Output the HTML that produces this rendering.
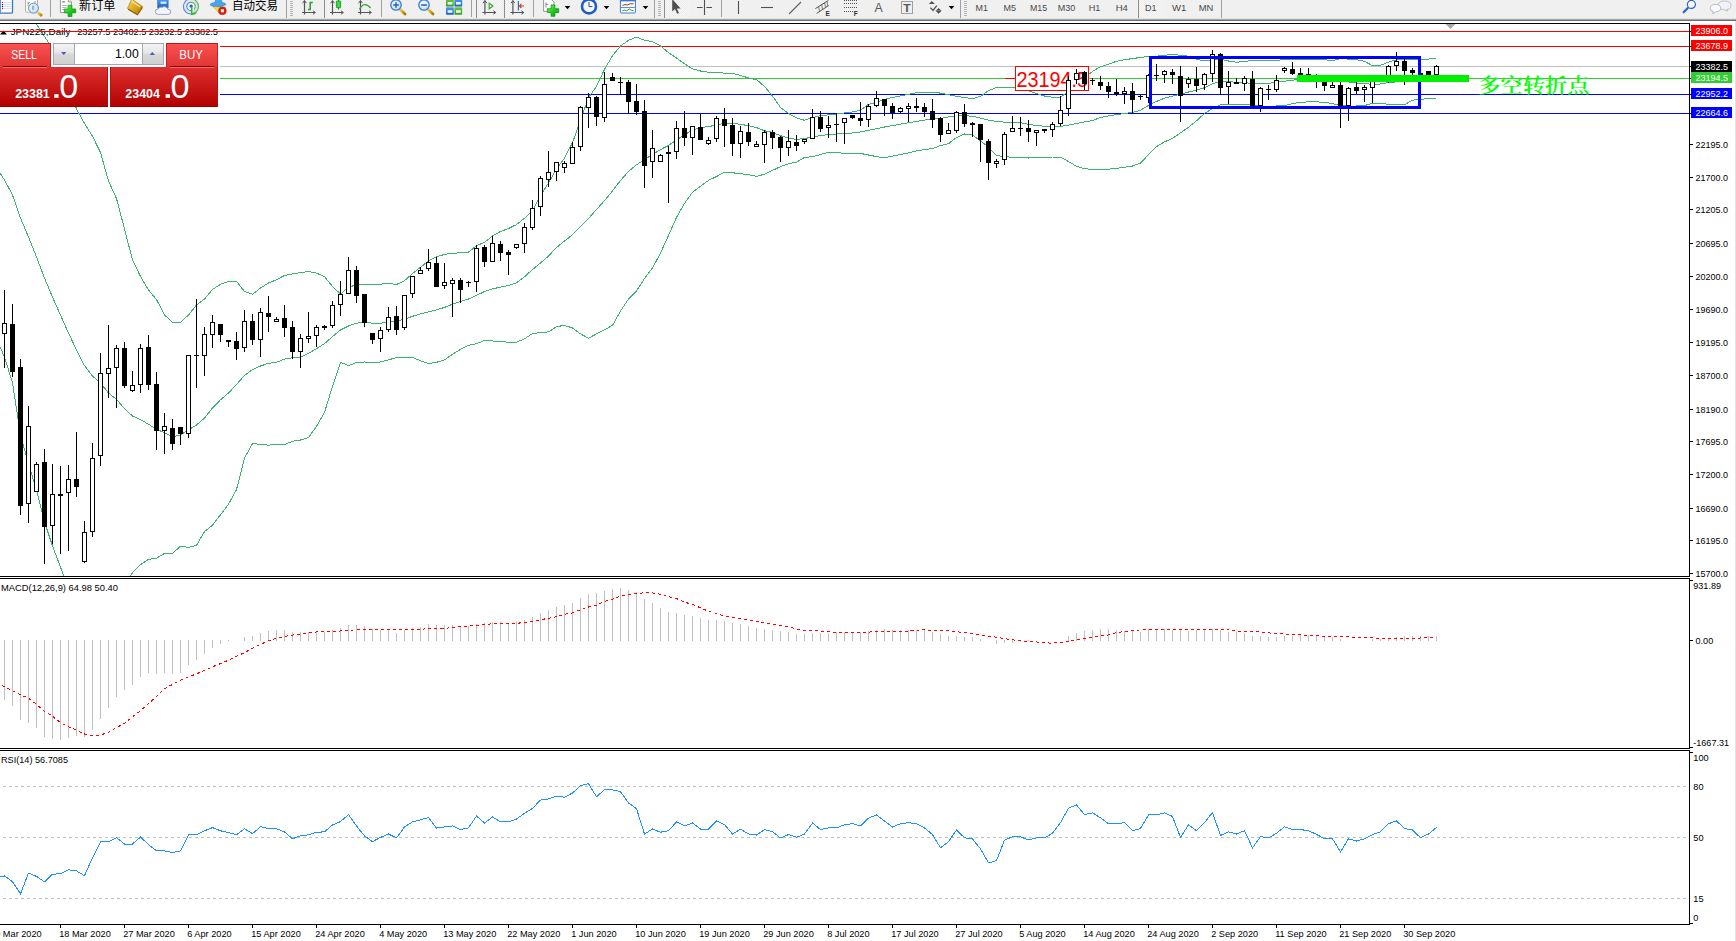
<!DOCTYPE html>
<html lang="zh"><head><meta charset="utf-8"><title>JPN225,Daily</title>
<style>html,body{margin:0;padding:0;background:#fff;overflow:hidden}body{width:1736px;height:941px}</style>
</head><body>
<svg width="1736" height="941" viewBox="0 0 1736 941" font-family="'Liberation Sans', sans-serif" style="display:block">
<defs>
<linearGradient id="gTab" x1="0" y1="0" x2="0" y2="1"><stop offset="0" stop-color="#fa5252"/><stop offset="1" stop-color="#e23434"/></linearGradient>
<linearGradient id="gLow" x1="0" y1="0" x2="0" y2="1"><stop offset="0" stop-color="#de3030"/><stop offset="0.5" stop-color="#c81818"/><stop offset="1" stop-color="#b00000"/></linearGradient>
<linearGradient id="gBtn" x1="0" y1="0" x2="0" y2="1"><stop offset="0" stop-color="#f4f4f4"/><stop offset="0.45" stop-color="#e6e6e6"/><stop offset="0.5" stop-color="#d8d8d8"/><stop offset="1" stop-color="#d0d0d0"/></linearGradient>
<clipPath id="cMain"><rect x="0" y="24" width="1689" height="552"/></clipPath>
<linearGradient id="gPlus" x1="0" y1="0" x2="1" y2="1"><stop offset="0" stop-color="#7dfa7d"/><stop offset="0.5" stop-color="#1fd01f"/><stop offset="1" stop-color="#0a9a0a"/></linearGradient><linearGradient id="gGold" x1="0" y1="0" x2="1" y2="1"><stop offset="0" stop-color="#f8dc70"/><stop offset="0.6" stop-color="#d8a010"/><stop offset="1" stop-color="#a87808"/></linearGradient><radialGradient id="gLens" cx="0.4" cy="0.35" r="0.7"><stop offset="0" stop-color="#f4fbff"/><stop offset="1" stop-color="#c4dcf0"/></radialGradient><linearGradient id="gBlue" x1="0" y1="0" x2="0" y2="1"><stop offset="0" stop-color="#4aa0f0"/><stop offset="1" stop-color="#1c5cc0"/></linearGradient><linearGradient id="gGreen" x1="0" y1="0" x2="0" y2="1"><stop offset="0" stop-color="#6cc840"/><stop offset="1" stop-color="#3c9818"/></linearGradient><pattern id="pChk" width="2" height="2" patternUnits="userSpaceOnUse"><rect width="2" height="2" fill="#f7f7f7"/><rect width="1" height="1" fill="#ececec"/><rect x="1" y="1" width="1" height="1" fill="#ececec"/></pattern><clipPath id="cTb"><rect x="0" y="0" width="1736" height="18"/></clipPath>
</defs>
<rect x="0" y="0" width="1736" height="941" fill="#fff"/>
<rect x="0" y="0" width="1736" height="18" fill="#f0f0f0"/>
<rect x="0" y="18" width="1736" height="1" fill="#e2e2e2"/>
<rect x="0" y="19" width="1736" height="1" fill="#a8a8a8"/>
<rect x="0" y="20" width="1736" height="1" fill="#6c6c6c"/>
<g clip-path="url(#cTb)"><rect x="-0.5" y="-1.5" width="13" height="14.7" rx="1.2" fill="#fff" stroke="#3b78c0" stroke-width="1.3"/><rect x="0" y="0" width="1" height="13" fill="#5a9ae0"/><rect x="3.4" y="2.1" width="8" height="0.8" fill="#c8d8f8"/><circle cx="2.5" cy="2.4" r="0.7" fill="#f01010"/><rect x="3.4" y="4.2" width="8" height="0.8" fill="#c8d8f8"/><circle cx="2.5" cy="4.5" r="0.7" fill="#202020"/><rect x="3.4" y="6.2" width="8" height="0.8" fill="#c8d8f8"/><circle cx="2.5" cy="6.5" r="0.7" fill="#202020"/><rect x="3.4" y="8.2" width="8" height="0.8" fill="#c8d8f8"/><circle cx="2.5" cy="8.5" r="0.7" fill="#f01010"/><rect x="25.5" y="-1" width="12" height="13.2" rx="0.8" fill="#fcfcf8" stroke="#b4aa94" stroke-width="0.9"/><path d="M28.2 1.5V6M28.2 3.2L30 2.2M35 1V3.2" stroke="#8c9098" stroke-width="0.8" fill="none"/><path d="M37.6 12.2L42 15.8" stroke="url(#gGold)" stroke-width="2.8" stroke-linecap="butt"/><circle cx="33.5" cy="8.2" r="5" fill="url(#gLens)" stroke="#5a8fd8" stroke-width="1"/><path d="M31.8 5.5h2.6l-0.3 4.6h-2z" fill="#a4b4c4"/><rect x="50" y="0" width="1" height="17" fill="#a0a0a0" shape-rendering="crispEdges"/><path d="M60.4 -1H68.4L71.4 2V12.2Q71.4 12.6 71 12.6H60.8Q60.4 12.6 60.4 12.2Z" fill="#fff" stroke="#8a8a8a" stroke-width="0.9"/><path d="M68.4 -1V2H71.4" fill="#e8e8e8" stroke="#8a8a8a" stroke-width="0.8"/><rect x="62" y="1.2" width="3" height="1.4" fill="#909090"/><rect x="62" y="5.2" width="5" height="0.7" fill="#9a9a9a"/><rect x="62" y="7.1" width="4.6" height="0.7" fill="#9a9a9a"/><rect x="62" y="9.1" width="2.5" height="0.7" fill="#9a9a9a"/><path d="M68.1 5.2h3.8v3.8000000000000003h3.8000000000000003v3.8h-3.8000000000000003v3.8000000000000003h-3.8v-3.8000000000000003h-3.8000000000000003v-3.8h3.8000000000000003z" fill="url(#gPlus)" stroke="#0a8a0a" stroke-width="0.7"/><text x="79" y="10.4" font-size="12" fill="#000" textLength="36.4" lengthAdjust="spacingAndGlyphs" font-family="'Liberation Sans','Noto Sans CJK SC',sans-serif">新订单</text><path d="M131.8 -1L142.6 6.6L137.5 14.6L127.4 8.4Z" fill="url(#gGold)" stroke="#a87808" stroke-width="0.6"/><path d="M128.2 9.2L137.4 14.8L142.4 7.4" stroke="#8a5c04" stroke-width="1.1" fill="none"/><path d="M131.5 1L139.8 6.8" stroke="#fbe9a0" stroke-width="1.2"/><rect x="157.6" y="-1" width="10.6" height="9.4" rx="0.8" fill="url(#gBlue)" stroke="#2a6cc8" stroke-width="0.6"/><rect x="160.6" y="1.6" width="5.8" height="2.2" fill="#d8ecff"/><path d="M158.4 14.4Q155.2 14.4 155.2 11.6Q155.2 9 158.2 9.2Q159.2 6.4 162.4 7.2Q164 5.8 166 7.2Q167.6 7.2 167.8 9.2Q171 9.2 170.8 12Q170.8 14.4 168 14.4Z" fill="#f2f6fc" stroke="#8c9cc0" stroke-width="0.9"/><circle cx="191" cy="6.4" r="8" fill="#dfe9f4"/><path d="M191 -1.6A8 8 0 0 1 191 14.4Z" fill="#d4ead8"/><circle cx="191" cy="6.4" r="4.2" fill="#f2f6fb"/><path d="M191 -1.2A7.6 7.6 0 0 0 191 14M191 2.2A4.2 4.2 0 0 0 191 10.6" stroke="#5a86d8" stroke-width="1.1" fill="none"/><path d="M191 -1.2A7.6 7.6 0 0 1 192.6 13.8M191 2.2A4.2 4.2 0 0 1 194 9.4" stroke="#62ac6c" stroke-width="1.1" fill="none"/><circle cx="191.2" cy="6.2" r="1.6" fill="#2c5ed0"/><path d="M191.7 7.4V14.3Q194.6 14.2 196.2 12.2" stroke="#28b828" stroke-width="1.5" fill="none"/><path d="M212.6 6.2L220.4 14.6L226 7.2Z" fill="#f8d848" stroke="#d0a010" stroke-width="0.5"/><path d="M216 -1H221L222.4 2.6Q226 3 226 4.6Q222 7.4 216.4 6.6Q210.4 6.4 210 4.4Q210.8 3 214.6 2.6Z" fill="#4aa4e8" stroke="#2a7cc8" stroke-width="0.5"/><circle cx="222.4" cy="10.8" r="3.9" fill="#d82010" stroke="#b01408" stroke-width="0.5"/><rect x="220.9" y="9.3" width="3" height="3" fill="#fff"/><text x="232" y="10.4" font-size="12" fill="#000" textLength="46" lengthAdjust="spacingAndGlyphs" font-family="'Liberation Sans','Noto Sans CJK SC',sans-serif">自动交易</text><rect x="286" y="0" width="1" height="18" fill="#a0a0a0" shape-rendering="crispEdges"/><rect x="290" y="1" width="3" height="1" fill="#b4b4b4" shape-rendering="crispEdges"/><rect x="290" y="3" width="3" height="1" fill="#b4b4b4" shape-rendering="crispEdges"/><rect x="290" y="5" width="3" height="1" fill="#b4b4b4" shape-rendering="crispEdges"/><rect x="290" y="7" width="3" height="1" fill="#b4b4b4" shape-rendering="crispEdges"/><rect x="290" y="9" width="3" height="1" fill="#b4b4b4" shape-rendering="crispEdges"/><rect x="290" y="11" width="3" height="1" fill="#b4b4b4" shape-rendering="crispEdges"/><rect x="290" y="13" width="3" height="1" fill="#b4b4b4" shape-rendering="crispEdges"/><rect x="290" y="15" width="3" height="1" fill="#b4b4b4" shape-rendering="crispEdges"/><path d="M304.5 0.5V14.5M302 12.5H315" stroke="#555" stroke-width="1.2" fill="none"/><path d="M302.6 3.2L304.5 0.6L306.4 3.2M313 10.8L315.4 12.5L313 14.2" stroke="#555" stroke-width="1" fill="none"/><path d="M308 9.6H310.2V2.4H312.8" stroke="#28a028" stroke-width="1.5" fill="none"/><rect x="325" y="0" width="24" height="18" fill="url(#pChk)" shape-rendering="crispEdges"/><rect x="324" y="0" width="1" height="18" fill="#8c8c8c" shape-rendering="crispEdges"/><path d="M332.5 0.5V14.5M330 12.5H343" stroke="#555" stroke-width="1.2" fill="none"/><path d="M330.6 3.2L332.5 0.6L334.4 3.2M341 10.8L343.4 12.5L341 14.2" stroke="#555" stroke-width="1" fill="none"/><path d="M338.5 -1V9.6" stroke="#1c8c1c" stroke-width="1"/><rect x="336.4" y="1" width="4.2" height="6.8" rx="0.6" fill="#30e040" stroke="#1c8c1c" stroke-width="0.8"/><path d="M360.5 0.5V14.5M358 12.5H371" stroke="#555" stroke-width="1.2" fill="none"/><path d="M358.6 3.2L360.5 0.6L362.4 3.2M369 10.8L371.4 12.5L369 14.2" stroke="#555" stroke-width="1" fill="none"/><path d="M359.4 9.4Q364.4 0.6 370.6 8.2" stroke="#38a038" stroke-width="1.3" fill="none"/><rect x="381" y="0" width="1" height="17" fill="#a0a0a0" shape-rendering="crispEdges"/><path d="M399.2 8.6L405 14" stroke="url(#gGold)" stroke-width="2.8" stroke-linecap="round"/><circle cx="396" cy="5" r="5.2" fill="url(#gLens)" stroke="#3d7bd0" stroke-width="1.3"/><path d="M393.2 5H398.8" stroke="#2a66c4" stroke-width="1.6"/><path d="M396 2.2V7.8" stroke="#2a66c4" stroke-width="1.6"/><path d="M427.2 8.6L433 14" stroke="url(#gGold)" stroke-width="2.8" stroke-linecap="round"/><circle cx="424" cy="5" r="5.2" fill="url(#gLens)" stroke="#3d7bd0" stroke-width="1.3"/><path d="M421.2 5H426.8" stroke="#2a66c4" stroke-width="1.6"/><rect x="446" y="-1" width="7.8" height="7.6" rx="0.7" fill="url(#gGreen)"/><rect x="447.6" y="2" width="4.8" height="2.6" fill="#e8f4ff"/><rect x="454.4" y="-1" width="7.8" height="7.6" rx="0.7" fill="url(#gBlue)"/><rect x="456.0" y="2" width="4.8" height="2.6" fill="#e8f4ff"/><rect x="446" y="7.2" width="7.8" height="7.6" rx="0.7" fill="url(#gBlue)"/><rect x="447.6" y="10.2" width="4.8" height="2.6" fill="#e8f4ff"/><rect x="454.4" y="7.2" width="7.8" height="7.6" rx="0.7" fill="url(#gGreen)"/><rect x="456.0" y="10.2" width="4.8" height="2.6" fill="#e8f4ff"/><rect x="471" y="0" width="1" height="17" fill="#a0a0a0" shape-rendering="crispEdges"/><rect x="477" y="0" width="24" height="18" fill="url(#pChk)" shape-rendering="crispEdges"/><rect x="476" y="0" width="1" height="18" fill="#8c8c8c" shape-rendering="crispEdges"/><path d="M484.9 0.5V14.5M482.4 12.5H495.4" stroke="#555" stroke-width="1.2" fill="none"/><path d="M483.0 3.2L484.9 0.6L486.79999999999995 3.2M493.4 10.8L495.79999999999995 12.5L493.4 14.2" stroke="#555" stroke-width="1" fill="none"/><path d="M489.2 3.2L493 6L489.2 8.8Z" fill="#fff" stroke="#28a828" stroke-width="1.1"/><rect x="504" y="0" width="1" height="17" fill="#a0a0a0" shape-rendering="crispEdges"/><rect x="505" y="0" width="24" height="18" fill="url(#pChk)" shape-rendering="crispEdges"/><rect x="504" y="0" width="1" height="18" fill="#8c8c8c" shape-rendering="crispEdges"/><path d="M512.9 0.5V14.5M510.4 12.5H523.4" stroke="#555" stroke-width="1.2" fill="none"/><path d="M511.0 3.2L512.9 0.6L514.8 3.2M521.4 10.8L523.8 12.5L521.4 14.2" stroke="#555" stroke-width="1" fill="none"/><path d="M518.4 1V10.4" stroke="#2a6cc8" stroke-width="1.2"/><path d="M524 6H519.6M521.4 4L519.4 6L521.4 8" stroke="#d04010" stroke-width="1.1" fill="none"/><rect x="533" y="0" width="1" height="17" fill="#a0a0a0" shape-rendering="crispEdges"/><path d="M543.6 -1H551L554 2V11.4H543.6Z" fill="#fff" stroke="#8a8a8a" stroke-width="0.9"/><path d="M546 2.4V7.6M546 4.4H548" stroke="#707070" stroke-width="0.8" fill="none"/><path d="M551.1 4.8999999999999995h3.8v3.8000000000000003h3.8000000000000003v3.8h-3.8000000000000003v3.8000000000000003h-3.8v-3.8000000000000003h-3.8000000000000003v-3.8h3.8000000000000003z" fill="url(#gPlus)" stroke="#0a8a0a" stroke-width="0.7"/><path d="M564.7 6L570.3000000000001 6L567.5 9.2Z" fill="#000"/><circle cx="589" cy="6.4" r="7" fill="#f4f8fc" stroke="#1c5cc8" stroke-width="2.6"/><path d="M589 2V6.6H592.4" stroke="#404858" stroke-width="1" fill="none"/><path d="M603.7 6L609.3000000000001 6L606.5 9.2Z" fill="#000"/><rect x="620.4" y="-1" width="15" height="14" rx="0.8" fill="#fff" stroke="#3a78d0" stroke-width="1"/><rect x="620.4" y="-1" width="15" height="2.4" fill="#3a78d0"/><rect x="620.9" y="7" width="14" height="0.8" fill="#3a78d0"/><path d="M622.4 5.4L625 4.6L627.4 5L630 3.8L633.6 3.8" stroke="#b03010" stroke-width="1" fill="none"/><path d="M622.4 10.8L624.6 10L626.6 10.8L629.4 9L631.4 10.2L633.6 10.8" stroke="#20a030" stroke-width="1" fill="none"/><path d="M642.7 6L648.3000000000001 6L645.5 9.2Z" fill="#000"/><rect x="654" y="0" width="1" height="18" fill="#a0a0a0" shape-rendering="crispEdges"/><rect x="658" y="1" width="3" height="1" fill="#b4b4b4" shape-rendering="crispEdges"/><rect x="658" y="3" width="3" height="1" fill="#b4b4b4" shape-rendering="crispEdges"/><rect x="658" y="5" width="3" height="1" fill="#b4b4b4" shape-rendering="crispEdges"/><rect x="658" y="7" width="3" height="1" fill="#b4b4b4" shape-rendering="crispEdges"/><rect x="658" y="9" width="3" height="1" fill="#b4b4b4" shape-rendering="crispEdges"/><rect x="658" y="11" width="3" height="1" fill="#b4b4b4" shape-rendering="crispEdges"/><rect x="658" y="13" width="3" height="1" fill="#b4b4b4" shape-rendering="crispEdges"/><rect x="658" y="15" width="3" height="1" fill="#b4b4b4" shape-rendering="crispEdges"/><rect x="665" y="0" width="24" height="18" fill="url(#pChk)" shape-rendering="crispEdges"/><rect x="664" y="0" width="1" height="18" fill="#8c8c8c" shape-rendering="crispEdges"/><path d="M672.2 -1V11.6L675 9L677.2 13.8L679 13L676.8 8.4H680.6Z" fill="#505050"/><path d="M704.5 -1V15M697 7.5H702.6M706.4 7.5H712" stroke="#505050" stroke-width="1.1" fill="none"/><rect x="721" y="0" width="1" height="17" fill="#a0a0a0" shape-rendering="crispEdges"/><path d="M738.5 1V14" stroke="#505050" stroke-width="1.1"/><path d="M761 7.5H773" stroke="#505050" stroke-width="1.1"/><path d="M789 14L801 2" stroke="#606060" stroke-width="1.1"/><path d="M815.4 8.6L828.4 0.4M816.6 13.4L828.6 5.6" stroke="#505050" stroke-width="1"/><path d="M818.6 6.4L819.6 11.6M821.6 4.4L822.6 9.8M824.6 2.6L825.6 8M827 1.2L827.8 6.2" stroke="#606060" stroke-width="0.8"/><text x="825.6" y="15.8" font-size="6.5" fill="#303030" font-weight="bold">E</text><path d="M844 0.5H857" stroke="#505050" stroke-width="1" stroke-dasharray="1 1"/><path d="M844 3.5H857" stroke="#505050" stroke-width="1" stroke-dasharray="1 1"/><path d="M844 7.5H857" stroke="#505050" stroke-width="1" stroke-dasharray="1 1"/><path d="M844 11.5H857" stroke="#505050" stroke-width="1" stroke-dasharray="1 1"/><text x="853.8" y="16" font-size="6.5" fill="#303030" font-weight="bold">F</text><text x="874.6" y="11.6" font-size="12.2" fill="#585858" textLength="8.2" lengthAdjust="spacingAndGlyphs">A</text><rect x="901.5" y="1.5" width="11" height="12" fill="none" stroke="#505050" stroke-width="1" stroke-dasharray="1 1"/><text x="903.2" y="11.6" font-size="11.5" fill="#585858" textLength="7.4" lengthAdjust="spacingAndGlyphs" font-weight="bold">T</text><path d="M931.8 1L934.8 4H928.8Z" fill="#505050"/><path d="M930.4 7.6L933 10.4L936.8 5.6" stroke="#505050" stroke-width="1.3" fill="none"/><path d="M938.6 13.8L935.4 10.4H941.8Z" fill="#505050"/><path d="M936 10.4L938.6 8L941.2 10.4Z" fill="#505050"/><path d="M948.7 6L954.3000000000001 6L951.5 9.2Z" fill="#000"/><rect x="960" y="0" width="1" height="18" fill="#a0a0a0" shape-rendering="crispEdges"/><rect x="964" y="1" width="3" height="1" fill="#b4b4b4" shape-rendering="crispEdges"/><rect x="964" y="3" width="3" height="1" fill="#b4b4b4" shape-rendering="crispEdges"/><rect x="964" y="5" width="3" height="1" fill="#b4b4b4" shape-rendering="crispEdges"/><rect x="964" y="7" width="3" height="1" fill="#b4b4b4" shape-rendering="crispEdges"/><rect x="964" y="9" width="3" height="1" fill="#b4b4b4" shape-rendering="crispEdges"/><rect x="964" y="11" width="3" height="1" fill="#b4b4b4" shape-rendering="crispEdges"/><rect x="964" y="13" width="3" height="1" fill="#b4b4b4" shape-rendering="crispEdges"/><rect x="964" y="15" width="3" height="1" fill="#b4b4b4" shape-rendering="crispEdges"/><rect x="1139" y="0" width="25" height="18" fill="url(#pChk)" shape-rendering="crispEdges"/><rect x="1138" y="0" width="1" height="18" fill="#8c8c8c" shape-rendering="crispEdges"/><text x="975.6" y="10.9" font-size="9.8" fill="#484848" textLength="12.4" lengthAdjust="spacingAndGlyphs">M1</text><text x="1003.5" y="10.9" font-size="9.8" fill="#484848" textLength="12.5" lengthAdjust="spacingAndGlyphs">M5</text><text x="1029.9" y="10.9" font-size="9.8" fill="#484848" textLength="17.2" lengthAdjust="spacingAndGlyphs">M15</text><text x="1057.7" y="10.9" font-size="9.8" fill="#484848" textLength="17.5" lengthAdjust="spacingAndGlyphs">M30</text><text x="1088.8" y="10.9" font-size="9.8" fill="#484848" textLength="11.6" lengthAdjust="spacingAndGlyphs">H1</text><text x="1115.7" y="10.9" font-size="9.8" fill="#484848" textLength="12.2" lengthAdjust="spacingAndGlyphs">H4</text><text x="1144.9" y="10.9" font-size="9.8" fill="#484848" textLength="11.5" lengthAdjust="spacingAndGlyphs">D1</text><text x="1171.9" y="10.9" font-size="9.8" fill="#484848" textLength="14.3" lengthAdjust="spacingAndGlyphs">W1</text><text x="1198.8" y="10.9" font-size="9.8" fill="#484848" textLength="14.6" lengthAdjust="spacingAndGlyphs">MN</text><rect x="1221" y="0" width="1" height="18" fill="#a0a0a0" shape-rendering="crispEdges"/><path d="M1687.6 8.2L1683.6 12.2" stroke="#2a62c8" stroke-width="2.2" stroke-linecap="round"/><circle cx="1691.4" cy="4.4" r="4" fill="#fbfdff" stroke="#2a62c8" stroke-width="1.2"/><path d="M1718 6.2Q1718 1 1724.4 1Q1731 1 1731 5.6Q1731 9.4 1726.4 9.6L1727.6 11.2L1723.8 9.6Q1718 9.4 1718 6.2Z" fill="#f0f2f8" stroke="#a8acb8" stroke-width="0.7"/><path d="M1710.2 8.6Q1710.2 4.4 1715.4 4.4Q1720.6 4.4 1720.6 8.2Q1720.6 11.6 1716 11.8L1712.6 13.8L1713.4 11.6Q1710.2 11 1710.2 8.6Z" fill="#f8f9fc" stroke="#a0a4b0" stroke-width="0.7"/></g>
<rect x="1735" y="21" width="1" height="920" fill="#e3e3e3"/>
<g shape-rendering="crispEdges">
<rect x="0" y="23" width="1690" height="1" fill="#000"/>
<rect x="0" y="576" width="1690" height="1" fill="#000"/>
<rect x="0" y="578" width="1690" height="1" fill="#000"/>
<rect x="0" y="748" width="1690" height="1" fill="#000"/>
<rect x="0" y="750" width="1690" height="1" fill="#000"/>
<rect x="0" y="924" width="1690" height="1" fill="#000"/>
<rect x="1689" y="23" width="1" height="554" fill="#000"/>
<rect x="1689" y="578" width="1" height="171" fill="#000"/>
<rect x="1689" y="750" width="1" height="175" fill="#000"/>
<rect x="0" y="31" width="1689" height="1" fill="#ff0000"/>
<rect x="220" y="46" width="1469" height="1" fill="#ff0000"/>
<rect x="220" y="66" width="1469" height="1" fill="#c0c0c0"/>
<rect x="220" y="78" width="1469" height="1" fill="#32cd32"/>
<rect x="220" y="94" width="1469" height="1" fill="#0000ff"/>
<rect x="0" y="113" width="1689" height="1" fill="#0000ff"/>
<polyline points="20.5,-4.0 28.5,11.5 36.5,24.0 44.5,36.5 52.5,48.5 60.5,65.0 68.5,85.0 76.5,108.9 84.5,123.4 92.5,136.3 100.5,152.5 108.5,181.0 116.5,198.5 124.5,229.0 132.5,260.0 140.5,276.5 148.5,290.0 156.5,299.5 164.5,315.0 172.5,322.3 180.5,322.3 188.5,315.0 196.5,305.0 204.5,299.0 212.5,289.5 220.5,284.3 228.5,281.4 236.5,281.3 244.5,291.6 252.5,294.2 260.5,288.1 268.5,283.0 276.5,279.8 284.5,275.4 292.5,273.9 300.5,272.7 308.5,271.4 316.5,273.1 324.5,276.7 332.5,286.4 340.5,294.1 348.5,287.2 356.5,284.8 364.5,284.5 372.5,284.3 380.5,284.1 388.5,283.5 396.5,284.5 404.5,280.7 412.5,273.5 420.5,267.3 428.5,260.9 436.5,256.8 444.5,254.4 452.5,253.3 460.5,252.8 468.5,252.1 476.5,245.7 484.5,242.4 492.5,236.0 500.5,231.5 508.5,228.5 516.5,224.6 524.5,218.3 532.5,210.6 540.5,195.5 548.5,183.0 556.5,169.0 564.5,158.0 572.5,142.7 580.5,120.3 588.5,97.7 596.5,86.4 604.5,69.4 612.5,55.7 620.5,46.0 628.5,40.3 636.5,37.1 644.5,40.3 652.5,41.6 660.5,46.0 668.5,52.5 676.5,58.1 684.5,63.8 692.5,68.9 700.5,71.0 708.5,72.3 716.5,72.7 724.5,73.1 732.5,73.5 740.5,75.4 748.5,78.0 756.5,79.6 764.5,86.4 772.5,96.1 780.5,107.4 788.5,113.5 796.5,117.9 804.5,120.3 812.5,117.5 820.5,115.7 828.5,114.9 836.5,114.1 844.5,113.0 852.5,112.0 860.5,110.1 868.5,104.4 876.5,102.3 884.5,99.3 892.5,97.5 900.5,95.9 908.5,94.2 916.5,92.8 924.5,92.3 932.5,92.3 940.5,93.1 948.5,94.7 956.5,96.3 964.5,97.5 972.5,98.8 980.5,96.3 988.5,90.7 996.5,87.5 1004.5,87.2 1012.5,87.2 1020.5,88.0 1028.5,90.6 1036.5,93.6 1044.5,96.0 1052.5,97.3 1060.5,97.2 1068.5,91.6 1076.5,83.6 1084.5,77.5 1092.5,71.5 1100.5,66.7 1108.5,64.2 1116.5,61.3 1124.5,59.7 1132.5,58.6 1140.5,57.4 1148.5,56.6 1156.5,56.2 1164.5,55.3 1172.5,54.5 1180.5,55.3 1188.5,56.2 1196.5,59.1 1204.5,61.0 1212.5,59.7 1220.5,59.1 1228.5,61.0 1236.5,62.3 1244.5,61.3 1252.5,60.7 1260.5,60.2 1268.5,60.7 1276.5,60.5 1284.5,59.4 1292.5,59.4 1300.5,59.4 1308.5,59.4 1316.5,59.4 1324.5,59.6 1332.5,60.7 1340.5,58.7 1348.5,59.1 1356.5,59.6 1364.5,61.4 1372.5,65.6 1380.5,65.3 1388.5,62.1 1396.5,59.8 1404.5,59.4 1412.5,59.8 1420.5,59.8 1428.5,59.1 1436.5,58.0" fill="none" stroke="#3cb371" stroke-width="1" clip-path="url(#cMain)"/>
<polyline points="-3.5,167.7 4.5,180.0 12.5,195.0 20.5,218.0 28.5,237.0 36.5,257.0 44.5,278.0 52.5,297.0 60.5,315.0 68.5,333.0 76.5,350.0 84.5,365.6 92.5,376.0 100.5,383.0 108.5,393.0 116.5,399.3 124.5,408.7 132.5,416.0 140.5,419.5 148.5,424.3 156.5,429.2 164.5,432.8 172.5,436.8 180.5,435.0 188.5,429.8 196.5,425.0 204.5,418.0 212.5,408.0 220.5,399.8 228.5,393.0 236.5,384.5 244.5,375.5 252.5,369.5 260.5,366.0 268.5,363.3 276.5,362.3 284.5,359.1 292.5,357.8 300.5,357.0 308.5,353.4 316.5,348.6 324.5,343.7 332.5,336.5 340.5,330.0 348.5,326.0 356.5,323.2 364.5,322.4 372.5,323.2 380.5,323.2 388.5,321.9 396.5,321.1 404.5,319.2 412.5,316.3 420.5,313.9 428.5,311.8 436.5,309.8 444.5,307.4 452.5,304.2 460.5,301.4 468.5,299.0 476.5,295.3 484.5,291.6 492.5,288.8 500.5,287.2 508.5,285.5 516.5,282.7 524.5,276.8 532.5,269.5 540.5,263.0 548.5,256.0 556.5,247.5 564.5,241.0 572.5,234.8 580.5,226.4 588.5,218.4 596.5,209.5 604.5,200.6 612.5,190.9 620.5,180.4 628.5,171.5 636.5,164.8 644.5,159.7 652.5,154.4 660.5,149.6 668.5,145.5 676.5,139.8 684.5,134.9 692.5,130.0 700.5,127.6 708.5,126.5 716.5,125.2 724.5,123.2 732.5,123.2 740.5,124.4 748.5,125.6 756.5,127.6 764.5,130.8 772.5,132.4 780.5,135.7 788.5,138.1 796.5,139.4 804.5,138.6 812.5,137.0 820.5,135.6 828.5,134.6 836.5,134.0 844.5,133.5 852.5,133.0 860.5,131.9 868.5,130.3 876.5,128.7 884.5,127.0 892.5,125.6 900.5,124.1 908.5,122.7 916.5,121.4 924.5,120.1 932.5,119.0 940.5,118.5 948.5,116.9 956.5,115.7 964.5,115.7 972.5,116.2 980.5,118.2 988.5,120.1 996.5,121.4 1004.5,122.2 1012.5,122.3 1020.5,122.7 1028.5,124.3 1036.5,125.5 1044.5,126.3 1052.5,127.1 1060.5,126.4 1068.5,125.1 1076.5,123.4 1084.5,121.9 1092.5,120.5 1100.5,117.5 1108.5,115.9 1116.5,114.6 1124.5,113.5 1132.5,112.4 1140.5,110.3 1148.5,105.4 1156.5,101.4 1164.5,98.2 1172.5,96.2 1180.5,94.1 1188.5,92.0 1196.5,90.1 1204.5,87.7 1212.5,83.6 1220.5,81.7 1228.5,81.7 1236.5,82.3 1244.5,82.8 1252.5,83.3 1260.5,83.9 1268.5,83.3 1276.5,82.4 1284.5,81.2 1292.5,80.1 1300.5,79.5 1308.5,79.3 1316.5,79.3 1324.5,79.6 1332.5,80.0 1340.5,81.0 1348.5,82.0 1356.5,83.0 1364.5,83.8 1372.5,84.2 1380.5,84.0 1388.5,82.6 1396.5,81.9 1404.5,81.0 1412.5,80.0 1420.5,79.5 1428.5,79.0 1436.5,78.5" fill="none" stroke="#3cb371" stroke-width="1" clip-path="url(#cMain)"/>
<polyline points="-3.5,339.0 4.5,357.0 12.5,383.0 20.5,435.0 28.5,464.0 36.5,490.0 44.5,522.0 52.5,546.0 60.5,567.0 68.5,590.0 76.5,610.0 84.5,625.0 92.5,630.0 100.5,625.0 108.5,615.0 116.5,600.0 124.5,585.0 132.5,572.8 140.5,564.7 148.5,559.4 156.5,558.3 164.5,553.4 172.5,553.4 180.5,546.2 188.5,547.3 196.5,545.4 204.5,531.6 212.5,525.2 220.5,514.7 228.5,504.2 236.5,489.6 244.5,458.1 252.5,443.6 260.5,444.4 268.5,445.2 276.5,444.4 284.5,444.5 292.5,441.3 300.5,440.0 308.5,437.5 316.5,426.3 324.5,412.5 332.5,386.3 340.5,362.4 348.5,365.5 356.5,362.6 364.5,362.0 372.5,362.6 380.5,362.0 388.5,359.9 396.5,357.5 404.5,357.5 412.5,357.5 420.5,360.7 428.5,363.6 436.5,362.3 444.5,359.9 452.5,354.2 460.5,349.4 468.5,345.4 476.5,343.7 484.5,340.5 492.5,341.0 500.5,341.3 508.5,342.4 516.5,342.1 524.5,338.9 532.5,333.5 540.5,332.7 548.5,331.9 556.5,326.6 564.5,325.4 572.5,328.0 580.5,333.9 588.5,338.2 596.5,333.9 604.5,329.7 612.5,325.4 620.5,311.0 628.5,299.0 636.5,291.0 644.5,278.5 652.5,268.0 660.5,253.1 668.5,235.5 676.5,217.4 684.5,203.4 692.5,192.2 700.5,186.3 708.5,180.4 716.5,176.5 724.5,172.3 732.5,172.8 740.5,173.6 748.5,174.7 756.5,176.3 764.5,174.2 772.5,170.4 780.5,166.6 788.5,163.8 796.5,162.1 804.5,157.5 812.5,156.6 820.5,154.5 828.5,152.4 836.5,152.4 844.5,153.4 852.5,153.4 860.5,153.4 868.5,155.0 876.5,156.6 884.5,157.7 892.5,156.1 900.5,154.5 908.5,152.9 916.5,150.8 924.5,149.7 932.5,148.5 940.5,145.6 948.5,143.7 956.5,137.5 964.5,134.0 972.5,135.1 980.5,140.8 988.5,147.2 996.5,155.3 1004.5,156.8 1012.5,157.2 1020.5,157.6 1028.5,158.0 1036.5,157.6 1044.5,157.2 1052.5,157.0 1060.5,157.0 1068.5,161.5 1076.5,166.3 1084.5,168.6 1092.5,169.6 1100.5,169.6 1108.5,169.2 1116.5,168.4 1124.5,167.3 1132.5,166.0 1140.5,163.1 1148.5,154.7 1156.5,146.6 1164.5,141.8 1172.5,138.5 1180.5,132.9 1188.5,127.2 1196.5,120.8 1204.5,113.5 1212.5,108.7 1220.5,104.6 1228.5,104.3 1236.5,104.3 1244.5,104.3 1252.5,105.4 1260.5,106.0 1268.5,106.0 1276.5,106.0 1284.5,105.8 1292.5,103.6 1300.5,102.2 1308.5,101.9 1316.5,101.9 1324.5,102.2 1332.5,103.6 1340.5,105.4 1348.5,106.0 1356.5,106.0 1364.5,105.6 1372.5,103.3 1380.5,103.3 1388.5,104.3 1396.5,105.0 1404.5,104.7 1412.5,100.1 1420.5,99.5 1428.5,98.5 1436.5,98.3" fill="none" stroke="#3cb371" stroke-width="1" clip-path="url(#cMain)"/>
<rect x="1005" y="78" width="11" height="1" fill="#ff0000"/>
<rect x="1015.5" y="66.5" width="73" height="24" fill="#fff" stroke="#ff0000" stroke-width="1"/>
</g>
<text x="1016.4" y="87.1" font-size="21.4" fill="#ff0000" textLength="71.6" lengthAdjust="spacingAndGlyphs">23194.5</text>
<g shape-rendering="crispEdges">
<rect x="4" y="290" width="1" height="78" fill="#000" clip-path="url(#cMain)"/>
<rect x="2" y="323" width="5" height="11" fill="#000"/>
<rect x="3" y="324" width="3" height="9" fill="#fff"/>
<rect x="12" y="304" width="1" height="73" fill="#000" clip-path="url(#cMain)"/>
<rect x="10" y="324" width="5" height="48" fill="#000"/>
<rect x="20" y="359" width="1" height="156" fill="#000" clip-path="url(#cMain)"/>
<rect x="18" y="367" width="5" height="139" fill="#000"/>
<rect x="28" y="406" width="1" height="117" fill="#000" clip-path="url(#cMain)"/>
<rect x="26" y="426" width="5" height="78" fill="#000"/>
<rect x="27" y="427" width="3" height="76" fill="#fff"/>
<rect x="36" y="462" width="1" height="30" fill="#000" clip-path="url(#cMain)"/>
<rect x="34" y="464" width="5" height="28" fill="#000"/>
<rect x="35" y="465" width="3" height="26" fill="#fff"/>
<rect x="44" y="449" width="1" height="115" fill="#000" clip-path="url(#cMain)"/>
<rect x="42" y="462" width="5" height="65" fill="#000"/>
<rect x="52" y="464" width="1" height="80" fill="#000" clip-path="url(#cMain)"/>
<rect x="50" y="494" width="5" height="32" fill="#000"/>
<rect x="51" y="495" width="3" height="30" fill="#fff"/>
<rect x="60" y="466" width="1" height="88" fill="#000" clip-path="url(#cMain)"/>
<rect x="58" y="494" width="5" height="2" fill="#000"/>
<rect x="68" y="465" width="1" height="86" fill="#000" clip-path="url(#cMain)"/>
<rect x="66" y="479" width="5" height="14" fill="#000"/>
<rect x="67" y="480" width="3" height="12" fill="#fff"/>
<rect x="76" y="432" width="1" height="65" fill="#000" clip-path="url(#cMain)"/>
<rect x="74" y="479" width="5" height="8" fill="#000"/>
<rect x="84" y="521" width="1" height="42" fill="#000" clip-path="url(#cMain)"/>
<rect x="82" y="532" width="5" height="30" fill="#000"/>
<rect x="83" y="533" width="3" height="28" fill="#fff"/>
<rect x="92" y="443" width="1" height="94" fill="#000" clip-path="url(#cMain)"/>
<rect x="90" y="458" width="5" height="74" fill="#000"/>
<rect x="91" y="459" width="3" height="72" fill="#fff"/>
<rect x="100" y="353" width="1" height="113" fill="#000" clip-path="url(#cMain)"/>
<rect x="98" y="373" width="5" height="83" fill="#000"/>
<rect x="99" y="374" width="3" height="81" fill="#fff"/>
<rect x="108" y="325" width="1" height="73" fill="#000" clip-path="url(#cMain)"/>
<rect x="106" y="368" width="5" height="6" fill="#000"/>
<rect x="107" y="369" width="3" height="4" fill="#fff"/>
<rect x="116" y="345" width="1" height="63" fill="#000" clip-path="url(#cMain)"/>
<rect x="114" y="348" width="5" height="20" fill="#000"/>
<rect x="115" y="349" width="3" height="18" fill="#fff"/>
<rect x="124" y="342" width="1" height="46" fill="#000" clip-path="url(#cMain)"/>
<rect x="122" y="348" width="5" height="38" fill="#000"/>
<rect x="132" y="371" width="1" height="21" fill="#000" clip-path="url(#cMain)"/>
<rect x="130" y="385" width="5" height="6" fill="#000"/>
<rect x="131" y="386" width="3" height="4" fill="#fff"/>
<rect x="140" y="344" width="1" height="49" fill="#000" clip-path="url(#cMain)"/>
<rect x="138" y="348" width="5" height="37" fill="#000"/>
<rect x="139" y="349" width="3" height="35" fill="#fff"/>
<rect x="148" y="335" width="1" height="55" fill="#000" clip-path="url(#cMain)"/>
<rect x="146" y="347" width="5" height="38" fill="#000"/>
<rect x="156" y="372" width="1" height="78" fill="#000" clip-path="url(#cMain)"/>
<rect x="154" y="384" width="5" height="47" fill="#000"/>
<rect x="164" y="413" width="1" height="41" fill="#000" clip-path="url(#cMain)"/>
<rect x="162" y="426" width="5" height="5" fill="#000"/>
<rect x="163" y="427" width="3" height="3" fill="#fff"/>
<rect x="172" y="419" width="1" height="31" fill="#000" clip-path="url(#cMain)"/>
<rect x="170" y="428" width="5" height="16" fill="#000"/>
<rect x="180" y="427" width="1" height="18" fill="#000" clip-path="url(#cMain)"/>
<rect x="178" y="427" width="5" height="7" fill="#000"/>
<rect x="188" y="355" width="1" height="83" fill="#000" clip-path="url(#cMain)"/>
<rect x="186" y="355" width="5" height="79" fill="#000"/>
<rect x="187" y="356" width="3" height="77" fill="#fff"/>
<rect x="196" y="299" width="1" height="89" fill="#000" clip-path="url(#cMain)"/>
<rect x="194" y="355" width="5" height="1" fill="#000"/>
<rect x="204" y="327" width="1" height="49" fill="#000" clip-path="url(#cMain)"/>
<rect x="202" y="334" width="5" height="22" fill="#000"/>
<rect x="203" y="335" width="3" height="20" fill="#fff"/>
<rect x="212" y="315" width="1" height="33" fill="#000" clip-path="url(#cMain)"/>
<rect x="210" y="322" width="5" height="13" fill="#000"/>
<rect x="211" y="323" width="3" height="11" fill="#fff"/>
<rect x="220" y="324" width="1" height="18" fill="#000" clip-path="url(#cMain)"/>
<rect x="218" y="324" width="5" height="11" fill="#000"/>
<rect x="228" y="340" width="1" height="7" fill="#000" clip-path="url(#cMain)"/>
<rect x="226" y="340" width="5" height="2" fill="#000"/>
<rect x="236" y="332" width="1" height="28" fill="#000" clip-path="url(#cMain)"/>
<rect x="234" y="341" width="5" height="8" fill="#000"/>
<rect x="244" y="310" width="1" height="42" fill="#000" clip-path="url(#cMain)"/>
<rect x="242" y="321" width="5" height="27" fill="#000"/>
<rect x="243" y="322" width="3" height="25" fill="#fff"/>
<rect x="252" y="314" width="1" height="31" fill="#000" clip-path="url(#cMain)"/>
<rect x="250" y="321" width="5" height="19" fill="#000"/>
<rect x="260" y="308" width="1" height="49" fill="#000" clip-path="url(#cMain)"/>
<rect x="258" y="312" width="5" height="28" fill="#000"/>
<rect x="259" y="313" width="3" height="26" fill="#fff"/>
<rect x="268" y="296" width="1" height="36" fill="#000" clip-path="url(#cMain)"/>
<rect x="266" y="313" width="5" height="4" fill="#000"/>
<rect x="276" y="317" width="1" height="5" fill="#000" clip-path="url(#cMain)"/>
<rect x="274" y="319" width="5" height="3" fill="#000"/>
<rect x="275" y="320" width="3" height="1" fill="#fff"/>
<rect x="284" y="305" width="1" height="32" fill="#000" clip-path="url(#cMain)"/>
<rect x="282" y="318" width="5" height="10" fill="#000"/>
<rect x="292" y="321" width="1" height="38" fill="#000" clip-path="url(#cMain)"/>
<rect x="290" y="327" width="5" height="25" fill="#000"/>
<rect x="300" y="334" width="1" height="34" fill="#000" clip-path="url(#cMain)"/>
<rect x="298" y="338" width="5" height="14" fill="#000"/>
<rect x="299" y="339" width="3" height="12" fill="#fff"/>
<rect x="308" y="312" width="1" height="31" fill="#000" clip-path="url(#cMain)"/>
<rect x="306" y="336" width="5" height="3" fill="#000"/>
<rect x="307" y="337" width="3" height="1" fill="#fff"/>
<rect x="316" y="325" width="1" height="22" fill="#000" clip-path="url(#cMain)"/>
<rect x="314" y="327" width="5" height="9" fill="#000"/>
<rect x="315" y="328" width="3" height="7" fill="#fff"/>
<rect x="324" y="325" width="1" height="5" fill="#000" clip-path="url(#cMain)"/>
<rect x="322" y="326" width="5" height="2" fill="#000"/>
<rect x="332" y="301" width="1" height="27" fill="#000" clip-path="url(#cMain)"/>
<rect x="330" y="305" width="5" height="21" fill="#000"/>
<rect x="331" y="306" width="3" height="19" fill="#fff"/>
<rect x="340" y="281" width="1" height="35" fill="#000" clip-path="url(#cMain)"/>
<rect x="338" y="294" width="5" height="11" fill="#000"/>
<rect x="339" y="295" width="3" height="9" fill="#fff"/>
<rect x="348" y="257" width="1" height="37" fill="#000" clip-path="url(#cMain)"/>
<rect x="346" y="270" width="5" height="24" fill="#000"/>
<rect x="347" y="271" width="3" height="22" fill="#fff"/>
<rect x="356" y="266" width="1" height="37" fill="#000" clip-path="url(#cMain)"/>
<rect x="354" y="270" width="5" height="26" fill="#000"/>
<rect x="364" y="294" width="1" height="33" fill="#000" clip-path="url(#cMain)"/>
<rect x="362" y="294" width="5" height="29" fill="#000"/>
<rect x="372" y="333" width="1" height="11" fill="#000" clip-path="url(#cMain)"/>
<rect x="370" y="333" width="5" height="7" fill="#000"/>
<rect x="380" y="327" width="1" height="25" fill="#000" clip-path="url(#cMain)"/>
<rect x="378" y="330" width="5" height="9" fill="#000"/>
<rect x="379" y="331" width="3" height="7" fill="#fff"/>
<rect x="388" y="307" width="1" height="25" fill="#000" clip-path="url(#cMain)"/>
<rect x="386" y="317" width="5" height="13" fill="#000"/>
<rect x="387" y="318" width="3" height="11" fill="#fff"/>
<rect x="396" y="306" width="1" height="29" fill="#000" clip-path="url(#cMain)"/>
<rect x="394" y="316" width="5" height="14" fill="#000"/>
<rect x="404" y="295" width="1" height="35" fill="#000" clip-path="url(#cMain)"/>
<rect x="402" y="295" width="5" height="33" fill="#000"/>
<rect x="403" y="296" width="3" height="31" fill="#fff"/>
<rect x="412" y="276" width="1" height="22" fill="#000" clip-path="url(#cMain)"/>
<rect x="410" y="276" width="5" height="18" fill="#000"/>
<rect x="411" y="277" width="3" height="16" fill="#fff"/>
<rect x="420" y="267" width="1" height="7" fill="#000" clip-path="url(#cMain)"/>
<rect x="418" y="270" width="5" height="4" fill="#000"/>
<rect x="419" y="271" width="3" height="2" fill="#fff"/>
<rect x="428" y="249" width="1" height="22" fill="#000" clip-path="url(#cMain)"/>
<rect x="426" y="262" width="5" height="7" fill="#000"/>
<rect x="427" y="263" width="3" height="5" fill="#fff"/>
<rect x="436" y="257" width="1" height="30" fill="#000" clip-path="url(#cMain)"/>
<rect x="434" y="263" width="5" height="24" fill="#000"/>
<rect x="444" y="263" width="1" height="26" fill="#000" clip-path="url(#cMain)"/>
<rect x="442" y="282" width="5" height="4" fill="#000"/>
<rect x="443" y="283" width="3" height="2" fill="#fff"/>
<rect x="452" y="278" width="1" height="39" fill="#000" clip-path="url(#cMain)"/>
<rect x="450" y="280" width="5" height="4" fill="#000"/>
<rect x="451" y="281" width="3" height="2" fill="#fff"/>
<rect x="460" y="278" width="1" height="25" fill="#000" clip-path="url(#cMain)"/>
<rect x="458" y="280" width="5" height="10" fill="#000"/>
<rect x="468" y="281" width="1" height="6" fill="#000" clip-path="url(#cMain)"/>
<rect x="466" y="282" width="5" height="1" fill="#000"/>
<rect x="476" y="245" width="1" height="47" fill="#000" clip-path="url(#cMain)"/>
<rect x="474" y="248" width="5" height="34" fill="#000"/>
<rect x="475" y="249" width="3" height="32" fill="#fff"/>
<rect x="484" y="245" width="1" height="22" fill="#000" clip-path="url(#cMain)"/>
<rect x="482" y="247" width="5" height="15" fill="#000"/>
<rect x="492" y="236" width="1" height="26" fill="#000" clip-path="url(#cMain)"/>
<rect x="490" y="243" width="5" height="19" fill="#000"/>
<rect x="491" y="244" width="3" height="17" fill="#fff"/>
<rect x="500" y="241" width="1" height="20" fill="#000" clip-path="url(#cMain)"/>
<rect x="498" y="244" width="5" height="9" fill="#000"/>
<rect x="508" y="250" width="1" height="25" fill="#000" clip-path="url(#cMain)"/>
<rect x="506" y="252" width="5" height="3" fill="#000"/>
<rect x="516" y="244" width="1" height="5" fill="#000" clip-path="url(#cMain)"/>
<rect x="514" y="244" width="5" height="4" fill="#000"/>
<rect x="515" y="245" width="3" height="2" fill="#fff"/>
<rect x="524" y="223" width="1" height="30" fill="#000" clip-path="url(#cMain)"/>
<rect x="522" y="227" width="5" height="17" fill="#000"/>
<rect x="523" y="228" width="3" height="15" fill="#fff"/>
<rect x="532" y="200" width="1" height="30" fill="#000" clip-path="url(#cMain)"/>
<rect x="530" y="208" width="5" height="20" fill="#000"/>
<rect x="531" y="209" width="3" height="18" fill="#fff"/>
<rect x="540" y="176" width="1" height="40" fill="#000" clip-path="url(#cMain)"/>
<rect x="538" y="178" width="5" height="29" fill="#000"/>
<rect x="539" y="179" width="3" height="27" fill="#fff"/>
<rect x="548" y="151" width="1" height="36" fill="#000" clip-path="url(#cMain)"/>
<rect x="546" y="172" width="5" height="8" fill="#000"/>
<rect x="547" y="173" width="3" height="6" fill="#fff"/>
<rect x="556" y="162" width="1" height="19" fill="#000" clip-path="url(#cMain)"/>
<rect x="554" y="162" width="5" height="10" fill="#000"/>
<rect x="555" y="163" width="3" height="8" fill="#fff"/>
<rect x="564" y="161" width="1" height="12" fill="#000" clip-path="url(#cMain)"/>
<rect x="562" y="163" width="5" height="5" fill="#000"/>
<rect x="563" y="164" width="3" height="3" fill="#fff"/>
<rect x="572" y="142" width="1" height="22" fill="#000" clip-path="url(#cMain)"/>
<rect x="570" y="147" width="5" height="17" fill="#000"/>
<rect x="571" y="148" width="3" height="15" fill="#fff"/>
<rect x="580" y="106" width="1" height="45" fill="#000" clip-path="url(#cMain)"/>
<rect x="578" y="107" width="5" height="40" fill="#000"/>
<rect x="579" y="108" width="3" height="38" fill="#fff"/>
<rect x="588" y="93" width="1" height="35" fill="#000" clip-path="url(#cMain)"/>
<rect x="586" y="97" width="5" height="11" fill="#000"/>
<rect x="587" y="98" width="3" height="9" fill="#fff"/>
<rect x="596" y="96" width="1" height="30" fill="#000" clip-path="url(#cMain)"/>
<rect x="594" y="97" width="5" height="20" fill="#000"/>
<rect x="604" y="72" width="1" height="50" fill="#000" clip-path="url(#cMain)"/>
<rect x="602" y="84" width="5" height="34" fill="#000"/>
<rect x="603" y="85" width="3" height="32" fill="#fff"/>
<rect x="612" y="73" width="1" height="8" fill="#000" clip-path="url(#cMain)"/>
<rect x="610" y="77" width="5" height="4" fill="#000"/>
<rect x="620" y="77" width="1" height="18" fill="#000" clip-path="url(#cMain)"/>
<rect x="618" y="82" width="5" height="1" fill="#000"/>
<rect x="628" y="80" width="1" height="34" fill="#000" clip-path="url(#cMain)"/>
<rect x="626" y="82" width="5" height="20" fill="#000"/>
<rect x="636" y="84" width="1" height="31" fill="#000" clip-path="url(#cMain)"/>
<rect x="634" y="101" width="5" height="11" fill="#000"/>
<rect x="644" y="100" width="1" height="88" fill="#000" clip-path="url(#cMain)"/>
<rect x="642" y="111" width="5" height="55" fill="#000"/>
<rect x="652" y="130" width="1" height="48" fill="#000" clip-path="url(#cMain)"/>
<rect x="650" y="148" width="5" height="14" fill="#000"/>
<rect x="651" y="149" width="3" height="12" fill="#fff"/>
<rect x="660" y="154" width="1" height="8" fill="#000" clip-path="url(#cMain)"/>
<rect x="658" y="155" width="5" height="7" fill="#000"/>
<rect x="659" y="156" width="3" height="5" fill="#fff"/>
<rect x="668" y="146" width="1" height="57" fill="#000" clip-path="url(#cMain)"/>
<rect x="666" y="152" width="5" height="2" fill="#000"/>
<rect x="676" y="121" width="1" height="38" fill="#000" clip-path="url(#cMain)"/>
<rect x="674" y="128" width="5" height="24" fill="#000"/>
<rect x="675" y="129" width="3" height="22" fill="#fff"/>
<rect x="684" y="111" width="1" height="35" fill="#000" clip-path="url(#cMain)"/>
<rect x="682" y="128" width="5" height="10" fill="#000"/>
<rect x="692" y="126" width="1" height="29" fill="#000" clip-path="url(#cMain)"/>
<rect x="690" y="126" width="5" height="12" fill="#000"/>
<rect x="691" y="127" width="3" height="10" fill="#fff"/>
<rect x="700" y="114" width="1" height="26" fill="#000" clip-path="url(#cMain)"/>
<rect x="698" y="127" width="5" height="13" fill="#000"/>
<rect x="708" y="137" width="1" height="8" fill="#000" clip-path="url(#cMain)"/>
<rect x="706" y="140" width="5" height="4" fill="#000"/>
<rect x="707" y="141" width="3" height="2" fill="#fff"/>
<rect x="716" y="116" width="1" height="26" fill="#000" clip-path="url(#cMain)"/>
<rect x="714" y="118" width="5" height="21" fill="#000"/>
<rect x="715" y="119" width="3" height="19" fill="#fff"/>
<rect x="724" y="108" width="1" height="39" fill="#000" clip-path="url(#cMain)"/>
<rect x="722" y="119" width="5" height="7" fill="#000"/>
<rect x="732" y="118" width="1" height="38" fill="#000" clip-path="url(#cMain)"/>
<rect x="730" y="125" width="5" height="19" fill="#000"/>
<rect x="740" y="126" width="1" height="32" fill="#000" clip-path="url(#cMain)"/>
<rect x="738" y="131" width="5" height="13" fill="#000"/>
<rect x="739" y="132" width="3" height="11" fill="#fff"/>
<rect x="748" y="123" width="1" height="23" fill="#000" clip-path="url(#cMain)"/>
<rect x="746" y="132" width="5" height="10" fill="#000"/>
<rect x="756" y="141" width="1" height="6" fill="#000" clip-path="url(#cMain)"/>
<rect x="754" y="144" width="5" height="3" fill="#000"/>
<rect x="755" y="145" width="3" height="1" fill="#fff"/>
<rect x="764" y="130" width="1" height="33" fill="#000" clip-path="url(#cMain)"/>
<rect x="762" y="132" width="5" height="13" fill="#000"/>
<rect x="763" y="133" width="3" height="11" fill="#fff"/>
<rect x="772" y="130" width="1" height="19" fill="#000" clip-path="url(#cMain)"/>
<rect x="770" y="132" width="5" height="6" fill="#000"/>
<rect x="780" y="136" width="1" height="26" fill="#000" clip-path="url(#cMain)"/>
<rect x="778" y="137" width="5" height="11" fill="#000"/>
<rect x="788" y="130" width="1" height="26" fill="#000" clip-path="url(#cMain)"/>
<rect x="786" y="141" width="5" height="7" fill="#000"/>
<rect x="787" y="142" width="3" height="5" fill="#fff"/>
<rect x="796" y="135" width="1" height="16" fill="#000" clip-path="url(#cMain)"/>
<rect x="794" y="142" width="5" height="4" fill="#000"/>
<rect x="804" y="139" width="1" height="5" fill="#000" clip-path="url(#cMain)"/>
<rect x="802" y="139" width="5" height="3" fill="#000"/>
<rect x="803" y="140" width="3" height="1" fill="#fff"/>
<rect x="812" y="109" width="1" height="30" fill="#000" clip-path="url(#cMain)"/>
<rect x="810" y="117" width="5" height="22" fill="#000"/>
<rect x="811" y="118" width="3" height="20" fill="#fff"/>
<rect x="820" y="111" width="1" height="21" fill="#000" clip-path="url(#cMain)"/>
<rect x="818" y="117" width="5" height="12" fill="#000"/>
<rect x="828" y="116" width="1" height="22" fill="#000" clip-path="url(#cMain)"/>
<rect x="826" y="125" width="5" height="3" fill="#000"/>
<rect x="827" y="126" width="3" height="1" fill="#fff"/>
<rect x="836" y="114" width="1" height="28" fill="#000" clip-path="url(#cMain)"/>
<rect x="834" y="124" width="5" height="1" fill="#000"/>
<rect x="844" y="118" width="1" height="26" fill="#000" clip-path="url(#cMain)"/>
<rect x="842" y="118" width="5" height="5" fill="#000"/>
<rect x="843" y="119" width="3" height="3" fill="#fff"/>
<rect x="852" y="115" width="1" height="4" fill="#000" clip-path="url(#cMain)"/>
<rect x="850" y="115" width="5" height="3" fill="#000"/>
<rect x="860" y="102" width="1" height="24" fill="#000" clip-path="url(#cMain)"/>
<rect x="858" y="118" width="5" height="3" fill="#000"/>
<rect x="868" y="104" width="1" height="23" fill="#000" clip-path="url(#cMain)"/>
<rect x="866" y="106" width="5" height="14" fill="#000"/>
<rect x="867" y="107" width="3" height="12" fill="#fff"/>
<rect x="876" y="91" width="1" height="16" fill="#000" clip-path="url(#cMain)"/>
<rect x="874" y="98" width="5" height="8" fill="#000"/>
<rect x="875" y="99" width="3" height="6" fill="#fff"/>
<rect x="884" y="99" width="1" height="17" fill="#000" clip-path="url(#cMain)"/>
<rect x="882" y="99" width="5" height="7" fill="#000"/>
<rect x="892" y="103" width="1" height="16" fill="#000" clip-path="url(#cMain)"/>
<rect x="890" y="106" width="5" height="7" fill="#000"/>
<rect x="900" y="107" width="1" height="6" fill="#000" clip-path="url(#cMain)"/>
<rect x="898" y="108" width="5" height="4" fill="#000"/>
<rect x="899" y="109" width="3" height="2" fill="#fff"/>
<rect x="908" y="103" width="1" height="19" fill="#000" clip-path="url(#cMain)"/>
<rect x="906" y="106" width="5" height="3" fill="#000"/>
<rect x="907" y="107" width="3" height="1" fill="#fff"/>
<rect x="916" y="98" width="1" height="14" fill="#000" clip-path="url(#cMain)"/>
<rect x="914" y="106" width="5" height="2" fill="#000"/>
<rect x="924" y="103" width="1" height="14" fill="#000" clip-path="url(#cMain)"/>
<rect x="922" y="107" width="5" height="5" fill="#000"/>
<rect x="932" y="99" width="1" height="29" fill="#000" clip-path="url(#cMain)"/>
<rect x="930" y="111" width="5" height="9" fill="#000"/>
<rect x="940" y="117" width="1" height="25" fill="#000" clip-path="url(#cMain)"/>
<rect x="938" y="118" width="5" height="17" fill="#000"/>
<rect x="948" y="123" width="1" height="11" fill="#000" clip-path="url(#cMain)"/>
<rect x="946" y="130" width="5" height="4" fill="#000"/>
<rect x="947" y="131" width="3" height="2" fill="#fff"/>
<rect x="956" y="111" width="1" height="22" fill="#000" clip-path="url(#cMain)"/>
<rect x="954" y="112" width="5" height="19" fill="#000"/>
<rect x="955" y="113" width="3" height="17" fill="#fff"/>
<rect x="964" y="104" width="1" height="23" fill="#000" clip-path="url(#cMain)"/>
<rect x="962" y="112" width="5" height="12" fill="#000"/>
<rect x="972" y="122" width="1" height="15" fill="#000" clip-path="url(#cMain)"/>
<rect x="970" y="123" width="5" height="2" fill="#000"/>
<rect x="980" y="124" width="1" height="38" fill="#000" clip-path="url(#cMain)"/>
<rect x="978" y="124" width="5" height="16" fill="#000"/>
<rect x="988" y="139" width="1" height="41" fill="#000" clip-path="url(#cMain)"/>
<rect x="986" y="141" width="5" height="22" fill="#000"/>
<rect x="996" y="159" width="1" height="9" fill="#000" clip-path="url(#cMain)"/>
<rect x="994" y="161" width="5" height="3" fill="#000"/>
<rect x="995" y="162" width="3" height="1" fill="#fff"/>
<rect x="1004" y="132" width="1" height="33" fill="#000" clip-path="url(#cMain)"/>
<rect x="1002" y="134" width="5" height="26" fill="#000"/>
<rect x="1003" y="135" width="3" height="24" fill="#fff"/>
<rect x="1012" y="116" width="1" height="16" fill="#000" clip-path="url(#cMain)"/>
<rect x="1010" y="128" width="5" height="4" fill="#000"/>
<rect x="1011" y="129" width="3" height="2" fill="#fff"/>
<rect x="1020" y="117" width="1" height="19" fill="#000" clip-path="url(#cMain)"/>
<rect x="1018" y="128" width="5" height="1" fill="#000"/>
<rect x="1028" y="120" width="1" height="22" fill="#000" clip-path="url(#cMain)"/>
<rect x="1026" y="128" width="5" height="4" fill="#000"/>
<rect x="1036" y="130" width="1" height="16" fill="#000" clip-path="url(#cMain)"/>
<rect x="1034" y="130" width="5" height="3" fill="#000"/>
<rect x="1035" y="131" width="3" height="1" fill="#fff"/>
<rect x="1044" y="129" width="1" height="4" fill="#000" clip-path="url(#cMain)"/>
<rect x="1042" y="129" width="5" height="2" fill="#000"/>
<rect x="1052" y="122" width="1" height="15" fill="#000" clip-path="url(#cMain)"/>
<rect x="1050" y="124" width="5" height="6" fill="#000"/>
<rect x="1051" y="125" width="3" height="4" fill="#fff"/>
<rect x="1060" y="96" width="1" height="30" fill="#000" clip-path="url(#cMain)"/>
<rect x="1058" y="110" width="5" height="14" fill="#000"/>
<rect x="1059" y="111" width="3" height="12" fill="#fff"/>
<rect x="1068" y="76" width="1" height="40" fill="#000" clip-path="url(#cMain)"/>
<rect x="1066" y="80" width="5" height="29" fill="#000"/>
<rect x="1067" y="81" width="3" height="27" fill="#fff"/>
<rect x="1076" y="69" width="1" height="15" fill="#000" clip-path="url(#cMain)"/>
<rect x="1074" y="73" width="5" height="7" fill="#000"/>
<rect x="1075" y="74" width="3" height="5" fill="#fff"/>
<rect x="1084" y="71" width="1" height="19" fill="#000" clip-path="url(#cMain)"/>
<rect x="1082" y="72" width="5" height="12" fill="#000"/>
<rect x="1092" y="78" width="1" height="7" fill="#000" clip-path="url(#cMain)"/>
<rect x="1090" y="80" width="5" height="1" fill="#000"/>
<rect x="1100" y="76" width="1" height="14" fill="#000" clip-path="url(#cMain)"/>
<rect x="1098" y="82" width="5" height="4" fill="#000"/>
<rect x="1108" y="82" width="1" height="16" fill="#000" clip-path="url(#cMain)"/>
<rect x="1106" y="86" width="5" height="6" fill="#000"/>
<rect x="1116" y="79" width="1" height="17" fill="#000" clip-path="url(#cMain)"/>
<rect x="1114" y="92" width="5" height="2" fill="#000"/>
<rect x="1124" y="87" width="1" height="17" fill="#000" clip-path="url(#cMain)"/>
<rect x="1122" y="91" width="5" height="3" fill="#000"/>
<rect x="1123" y="92" width="3" height="1" fill="#fff"/>
<rect x="1132" y="83" width="1" height="30" fill="#000" clip-path="url(#cMain)"/>
<rect x="1130" y="91" width="5" height="9" fill="#000"/>
<rect x="1140" y="95" width="1" height="5" fill="#000" clip-path="url(#cMain)"/>
<rect x="1138" y="96" width="5" height="1" fill="#000"/>
<rect x="1148" y="74" width="1" height="29" fill="#000" clip-path="url(#cMain)"/>
<rect x="1146" y="75" width="5" height="23" fill="#000"/>
<rect x="1147" y="76" width="3" height="21" fill="#fff"/>
<rect x="1156" y="64" width="1" height="17" fill="#000" clip-path="url(#cMain)"/>
<rect x="1154" y="75" width="5" height="1" fill="#000"/>
<rect x="1164" y="70" width="1" height="13" fill="#000" clip-path="url(#cMain)"/>
<rect x="1162" y="71" width="5" height="4" fill="#000"/>
<rect x="1163" y="72" width="3" height="2" fill="#fff"/>
<rect x="1172" y="69" width="1" height="15" fill="#000" clip-path="url(#cMain)"/>
<rect x="1170" y="72" width="5" height="3" fill="#000"/>
<rect x="1180" y="66" width="1" height="56" fill="#000" clip-path="url(#cMain)"/>
<rect x="1178" y="76" width="5" height="20" fill="#000"/>
<rect x="1188" y="77" width="1" height="11" fill="#000" clip-path="url(#cMain)"/>
<rect x="1186" y="79" width="5" height="5" fill="#000"/>
<rect x="1187" y="80" width="3" height="3" fill="#fff"/>
<rect x="1196" y="67" width="1" height="25" fill="#000" clip-path="url(#cMain)"/>
<rect x="1194" y="79" width="5" height="7" fill="#000"/>
<rect x="1204" y="73" width="1" height="17" fill="#000" clip-path="url(#cMain)"/>
<rect x="1202" y="74" width="5" height="11" fill="#000"/>
<rect x="1203" y="75" width="3" height="9" fill="#fff"/>
<rect x="1212" y="50" width="1" height="32" fill="#000" clip-path="url(#cMain)"/>
<rect x="1210" y="54" width="5" height="20" fill="#000"/>
<rect x="1211" y="55" width="3" height="18" fill="#fff"/>
<rect x="1220" y="53" width="1" height="42" fill="#000" clip-path="url(#cMain)"/>
<rect x="1218" y="54" width="5" height="34" fill="#000"/>
<rect x="1228" y="71" width="1" height="33" fill="#000" clip-path="url(#cMain)"/>
<rect x="1226" y="82" width="5" height="5" fill="#000"/>
<rect x="1227" y="83" width="3" height="3" fill="#fff"/>
<rect x="1236" y="78" width="1" height="6" fill="#000" clip-path="url(#cMain)"/>
<rect x="1234" y="82" width="5" height="2" fill="#000"/>
<rect x="1244" y="76" width="1" height="15" fill="#000" clip-path="url(#cMain)"/>
<rect x="1242" y="78" width="5" height="6" fill="#000"/>
<rect x="1243" y="79" width="3" height="4" fill="#fff"/>
<rect x="1252" y="71" width="1" height="35" fill="#000" clip-path="url(#cMain)"/>
<rect x="1250" y="79" width="5" height="27" fill="#000"/>
<rect x="1260" y="87" width="1" height="25" fill="#000" clip-path="url(#cMain)"/>
<rect x="1258" y="88" width="5" height="18" fill="#000"/>
<rect x="1259" y="89" width="3" height="16" fill="#fff"/>
<rect x="1268" y="85" width="1" height="15" fill="#000" clip-path="url(#cMain)"/>
<rect x="1266" y="89" width="5" height="1" fill="#000"/>
<rect x="1276" y="75" width="1" height="17" fill="#000" clip-path="url(#cMain)"/>
<rect x="1274" y="80" width="5" height="10" fill="#000"/>
<rect x="1275" y="81" width="3" height="8" fill="#fff"/>
<rect x="1284" y="67" width="1" height="6" fill="#000" clip-path="url(#cMain)"/>
<rect x="1282" y="68" width="5" height="3" fill="#000"/>
<rect x="1283" y="69" width="3" height="1" fill="#fff"/>
<rect x="1292" y="62" width="1" height="13" fill="#000" clip-path="url(#cMain)"/>
<rect x="1290" y="69" width="5" height="5" fill="#000"/>
<rect x="1300" y="68" width="1" height="9" fill="#000" clip-path="url(#cMain)"/>
<rect x="1298" y="73" width="5" height="4" fill="#000"/>
<rect x="1308" y="68" width="1" height="9" fill="#000" clip-path="url(#cMain)"/>
<rect x="1306" y="74" width="5" height="2" fill="#000"/>
<rect x="1316" y="74" width="1" height="14" fill="#000" clip-path="url(#cMain)"/>
<rect x="1314" y="77" width="5" height="2" fill="#000"/>
<rect x="1324" y="78" width="1" height="13" fill="#000" clip-path="url(#cMain)"/>
<rect x="1322" y="79" width="5" height="7" fill="#000"/>
<rect x="1332" y="82" width="1" height="6" fill="#000" clip-path="url(#cMain)"/>
<rect x="1330" y="85" width="5" height="3" fill="#000"/>
<rect x="1331" y="86" width="3" height="1" fill="#fff"/>
<rect x="1340" y="80" width="1" height="48" fill="#000" clip-path="url(#cMain)"/>
<rect x="1338" y="85" width="5" height="21" fill="#000"/>
<rect x="1348" y="87" width="1" height="34" fill="#000" clip-path="url(#cMain)"/>
<rect x="1346" y="88" width="5" height="18" fill="#000"/>
<rect x="1347" y="89" width="3" height="16" fill="#fff"/>
<rect x="1356" y="80" width="1" height="14" fill="#000" clip-path="url(#cMain)"/>
<rect x="1354" y="87" width="5" height="4" fill="#000"/>
<rect x="1364" y="85" width="1" height="17" fill="#000" clip-path="url(#cMain)"/>
<rect x="1362" y="87" width="5" height="3" fill="#000"/>
<rect x="1363" y="88" width="3" height="1" fill="#fff"/>
<rect x="1372" y="78" width="1" height="25" fill="#000" clip-path="url(#cMain)"/>
<rect x="1370" y="80" width="5" height="8" fill="#000"/>
<rect x="1371" y="81" width="3" height="6" fill="#fff"/>
<rect x="1380" y="76" width="1" height="4" fill="#000" clip-path="url(#cMain)"/>
<rect x="1378" y="77" width="5" height="3" fill="#000"/>
<rect x="1379" y="78" width="3" height="1" fill="#fff"/>
<rect x="1388" y="65" width="1" height="18" fill="#000" clip-path="url(#cMain)"/>
<rect x="1386" y="66" width="5" height="12" fill="#000"/>
<rect x="1387" y="67" width="3" height="10" fill="#fff"/>
<rect x="1396" y="52" width="1" height="19" fill="#000" clip-path="url(#cMain)"/>
<rect x="1394" y="61" width="5" height="5" fill="#000"/>
<rect x="1395" y="62" width="3" height="3" fill="#fff"/>
<rect x="1404" y="59" width="1" height="26" fill="#000" clip-path="url(#cMain)"/>
<rect x="1402" y="61" width="5" height="10" fill="#000"/>
<rect x="1412" y="68" width="1" height="8" fill="#000" clip-path="url(#cMain)"/>
<rect x="1410" y="70" width="5" height="3" fill="#000"/>
<rect x="1420" y="72" width="1" height="4" fill="#000" clip-path="url(#cMain)"/>
<rect x="1418" y="73" width="5" height="2" fill="#000"/>
<rect x="1428" y="71" width="1" height="4" fill="#000" clip-path="url(#cMain)"/>
<rect x="1426" y="71" width="5" height="4" fill="#000"/>
<rect x="1436" y="65" width="1" height="10" fill="#000" clip-path="url(#cMain)"/>
<rect x="1434" y="66" width="5" height="9" fill="#000"/>
<rect x="1435" y="67" width="3" height="7" fill="#fff"/>
<rect x="1150.5" y="57.5" width="269" height="50" fill="none" stroke="#0000ff" stroke-width="3"/>
<rect x="1297" y="75" width="172" height="7" fill="#00f000"/>
</g>
<text x="1478.2" y="92.6" font-size="20.6" fill="#00ff00" textLength="111.4" lengthAdjust="spacingAndGlyphs" font-weight="600" font-family="'Noto Serif CJK SC','Liberation Serif',serif">多空转折点</text>
<path d="M1445.5 24 L1455.5 24 L1450.5 29 Z" fill="#a9a9a9"/>
<g shape-rendering="crispEdges">
<rect x="1690" y="144" width="3" height="1" fill="#000"/>
<rect x="1690" y="177" width="3" height="1" fill="#000"/>
<rect x="1690" y="209" width="3" height="1" fill="#000"/>
<rect x="1690" y="243" width="3" height="1" fill="#000"/>
<rect x="1690" y="276" width="3" height="1" fill="#000"/>
<rect x="1690" y="309" width="3" height="1" fill="#000"/>
<rect x="1690" y="342" width="3" height="1" fill="#000"/>
<rect x="1690" y="375" width="3" height="1" fill="#000"/>
<rect x="1690" y="409" width="3" height="1" fill="#000"/>
<rect x="1690" y="441" width="3" height="1" fill="#000"/>
<rect x="1690" y="474" width="3" height="1" fill="#000"/>
<rect x="1690" y="508" width="3" height="1" fill="#000"/>
<rect x="1690" y="540" width="3" height="1" fill="#000"/>
<rect x="1690" y="573" width="3" height="1" fill="#000"/>
<rect x="1690" y="31" width="2" height="1" fill="#000"/>
<rect x="1690" y="46" width="2" height="1" fill="#000"/>
<rect x="1690" y="66" width="2" height="1" fill="#000"/>
<rect x="1690" y="78" width="2" height="1" fill="#000"/>
<rect x="1690" y="94" width="2" height="1" fill="#000"/>
<rect x="1690" y="113" width="2" height="1" fill="#000"/>
<rect x="1691" y="25" width="41" height="11" fill="#ff0000"/>
<rect x="1691" y="40" width="41" height="11" fill="#ff0000"/>
<rect x="1691" y="61" width="41" height="11" fill="#000"/>
<rect x="1691" y="72" width="41" height="11" fill="#32cd32"/>
<rect x="1691" y="88" width="41" height="11" fill="#0000ff"/>
<rect x="1691" y="107" width="41" height="11" fill="#0000ff"/>
</g>
<text x="1695.5" y="147.6" font-size="9.2" fill="#000" textLength="32.5" lengthAdjust="spacingAndGlyphs">22195.0</text>
<text x="1695.5" y="180.6" font-size="9.2" fill="#000" textLength="32.5" lengthAdjust="spacingAndGlyphs">21700.0</text>
<text x="1695.5" y="212.6" font-size="9.2" fill="#000" textLength="32.5" lengthAdjust="spacingAndGlyphs">21205.0</text>
<text x="1695.5" y="246.6" font-size="9.2" fill="#000" textLength="32.5" lengthAdjust="spacingAndGlyphs">20695.0</text>
<text x="1695.5" y="279.6" font-size="9.2" fill="#000" textLength="32.5" lengthAdjust="spacingAndGlyphs">20200.0</text>
<text x="1695.5" y="312.6" font-size="9.2" fill="#000" textLength="32.5" lengthAdjust="spacingAndGlyphs">19690.0</text>
<text x="1695.5" y="345.6" font-size="9.2" fill="#000" textLength="32.5" lengthAdjust="spacingAndGlyphs">19195.0</text>
<text x="1695.5" y="378.6" font-size="9.2" fill="#000" textLength="32.5" lengthAdjust="spacingAndGlyphs">18700.0</text>
<text x="1695.5" y="412.6" font-size="9.2" fill="#000" textLength="32.5" lengthAdjust="spacingAndGlyphs">18190.0</text>
<text x="1695.5" y="444.6" font-size="9.2" fill="#000" textLength="32.5" lengthAdjust="spacingAndGlyphs">17695.0</text>
<text x="1695.5" y="477.6" font-size="9.2" fill="#000" textLength="32.5" lengthAdjust="spacingAndGlyphs">17200.0</text>
<text x="1695.5" y="511.6" font-size="9.2" fill="#000" textLength="32.5" lengthAdjust="spacingAndGlyphs">16690.0</text>
<text x="1695.5" y="543.6" font-size="9.2" fill="#000" textLength="32.5" lengthAdjust="spacingAndGlyphs">16195.0</text>
<text x="1695.5" y="576.6" font-size="9.2" fill="#000" textLength="32.5" lengthAdjust="spacingAndGlyphs">15700.0</text>
<text x="1695.5" y="34.0" font-size="9.2" fill="#fff" textLength="32.5" lengthAdjust="spacingAndGlyphs">23906.0</text>
<text x="1695.5" y="49.0" font-size="9.2" fill="#fff" textLength="32.5" lengthAdjust="spacingAndGlyphs">23678.9</text>
<text x="1695.5" y="70.0" font-size="9.2" fill="#fff" textLength="32.5" lengthAdjust="spacingAndGlyphs">23382.5</text>
<text x="1695.5" y="81.0" font-size="9.2" fill="#fff" textLength="32.5" lengthAdjust="spacingAndGlyphs">23194.5</text>
<text x="1695.5" y="97.0" font-size="9.2" fill="#fff" textLength="32.5" lengthAdjust="spacingAndGlyphs">22952.2</text>
<text x="1695.5" y="116.0" font-size="9.2" fill="#fff" textLength="32.5" lengthAdjust="spacingAndGlyphs">22664.6</text>
<path d="M0 34.5 L3.5 30.5 L7 34.5 Z" fill="#000"/>
<text x="10.7" y="35.3" font-size="9.2" fill="#000" textLength="59.8" lengthAdjust="spacingAndGlyphs">JPN225,Daily</text>
<text x="77.2" y="35.3" font-size="9.2" fill="#000" textLength="140.8" lengthAdjust="spacingAndGlyphs">23257.5 23402.5 23232.5 23382.5</text>
<g shape-rendering="crispEdges">
<rect x="0" y="31" width="1689" height="1" fill="#ff0000"/>
<rect x="0" y="43" width="218" height="24" fill="#fff"/>
<rect x="0" y="43" width="51" height="24" fill="url(#gTab)"/>
<rect x="0" y="43" width="51" height="1" fill="#c01818"/>
<rect x="50" y="43" width="1" height="24" fill="#c82020"/>
<rect x="166" y="43" width="52" height="24" fill="url(#gTab)"/>
<rect x="166" y="43" width="52" height="1" fill="#c01818"/>
<rect x="166" y="43" width="1" height="24" fill="#c82020"/>
<rect x="217" y="43" width="1" height="24" fill="#c82020"/>
<rect x="0" y="67" width="108" height="40" fill="url(#gLow)"/>
<rect x="110" y="67" width="108" height="40" fill="url(#gLow)"/>
<rect x="108" y="67" width="2" height="40" fill="#fff"/>
<rect x="107" y="67" width="1" height="40" fill="#b41010"/>
<rect x="110" y="67" width="1" height="40" fill="#b41010"/>
<rect x="217" y="67" width="1" height="40" fill="#b41010"/>
<rect x="0" y="106" width="108" height="1" fill="#a00000"/>
<rect x="110" y="106" width="108" height="1" fill="#a00000"/>
<rect x="3" y="66" width="44" height="1" fill="#8a0000"/>
<rect x="3" y="67" width="44" height="1" fill="#f07070"/>
<rect x="170" y="66" width="44" height="1" fill="#8a0000"/>
<rect x="170" y="67" width="44" height="1" fill="#f07070"/>
<rect x="53.5" y="43.5" width="110" height="21" fill="#fff" stroke="#a3a9b2"/>
<rect x="54" y="44" width="20" height="20" fill="url(#gBtn)"/>
<rect x="74" y="44" width="1" height="20" fill="#a3a9b2"/>
<rect x="143" y="44" width="20" height="20" fill="url(#gBtn)"/>
<rect x="142" y="44" width="1" height="20" fill="#a3a9b2"/>
</g>
<path d="M61 52 L66.4 52 L63.7 55 Z" fill="#4b5bc0"/>
<path d="M149.6 55 L155 55 L152.3 52 Z" fill="#4b5bc0"/>
<text x="138.7" y="58.1" font-size="12.2" fill="#000" text-anchor="end">1.00</text>
<text x="11.3" y="58.6" font-size="12" fill="#fff" textLength="25.6" lengthAdjust="spacingAndGlyphs">SELL</text>
<text x="179.3" y="58.6" font-size="12" fill="#fff" textLength="23.6" lengthAdjust="spacingAndGlyphs">BUY</text>
<text x="15.2" y="97.9" font-size="12" fill="#fff" textLength="34.6" lengthAdjust="spacingAndGlyphs" font-weight="bold">23381</text>
<text x="125.3" y="97.9" font-size="12" fill="#fff" textLength="34.6" lengthAdjust="spacingAndGlyphs" font-weight="bold">23404</text>
<rect x="54.2" y="94.2" width="4.4" height="3.6" fill="#fff"/>
<rect x="165.6" y="94.2" width="4.4" height="3.6" fill="#fff"/>
<text x="59.3" y="98.1" font-size="33.5" fill="#fff" textLength="19" lengthAdjust="spacingAndGlyphs">0</text>
<text x="170.6" y="98.1" font-size="33.5" fill="#fff" textLength="19" lengthAdjust="spacingAndGlyphs">0</text>
<g shape-rendering="crispEdges">
<rect x="4" y="640" width="1" height="60" fill="#c0c0c0"/>
<rect x="12" y="640" width="1" height="66" fill="#c0c0c0"/>
<rect x="20" y="640" width="1" height="80" fill="#c0c0c0"/>
<rect x="28" y="640" width="1" height="83" fill="#c0c0c0"/>
<rect x="36" y="640" width="1" height="88" fill="#c0c0c0"/>
<rect x="44" y="640" width="1" height="97" fill="#c0c0c0"/>
<rect x="52" y="640" width="1" height="99" fill="#c0c0c0"/>
<rect x="60" y="640" width="1" height="100" fill="#c0c0c0"/>
<rect x="68" y="640" width="1" height="98" fill="#c0c0c0"/>
<rect x="76" y="640" width="1" height="96" fill="#c0c0c0"/>
<rect x="84" y="640" width="1" height="97" fill="#c0c0c0"/>
<rect x="92" y="640" width="1" height="90" fill="#c0c0c0"/>
<rect x="100" y="640" width="1" height="79" fill="#c0c0c0"/>
<rect x="108" y="640" width="1" height="68" fill="#c0c0c0"/>
<rect x="116" y="640" width="1" height="57" fill="#c0c0c0"/>
<rect x="124" y="640" width="1" height="50" fill="#c0c0c0"/>
<rect x="132" y="640" width="1" height="45" fill="#c0c0c0"/>
<rect x="140" y="640" width="1" height="37" fill="#c0c0c0"/>
<rect x="148" y="640" width="1" height="33" fill="#c0c0c0"/>
<rect x="156" y="640" width="1" height="34" fill="#c0c0c0"/>
<rect x="164" y="640" width="1" height="33" fill="#c0c0c0"/>
<rect x="172" y="640" width="1" height="34" fill="#c0c0c0"/>
<rect x="180" y="640" width="1" height="33" fill="#c0c0c0"/>
<rect x="188" y="640" width="1" height="25" fill="#c0c0c0"/>
<rect x="196" y="640" width="1" height="20" fill="#c0c0c0"/>
<rect x="204" y="640" width="1" height="14" fill="#c0c0c0"/>
<rect x="212" y="640" width="1" height="8" fill="#c0c0c0"/>
<rect x="220" y="640" width="1" height="4" fill="#c0c0c0"/>
<rect x="228" y="640" width="1" height="1" fill="#c0c0c0"/>
<rect x="244" y="637" width="1" height="4" fill="#c0c0c0"/>
<rect x="252" y="636" width="1" height="5" fill="#c0c0c0"/>
<rect x="260" y="633" width="1" height="8" fill="#c0c0c0"/>
<rect x="268" y="631" width="1" height="10" fill="#c0c0c0"/>
<rect x="276" y="630" width="1" height="11" fill="#c0c0c0"/>
<rect x="284" y="630" width="1" height="11" fill="#c0c0c0"/>
<rect x="292" y="632" width="1" height="9" fill="#c0c0c0"/>
<rect x="300" y="632" width="1" height="9" fill="#c0c0c0"/>
<rect x="308" y="632" width="1" height="9" fill="#c0c0c0"/>
<rect x="316" y="632" width="1" height="9" fill="#c0c0c0"/>
<rect x="324" y="632" width="1" height="9" fill="#c0c0c0"/>
<rect x="332" y="630" width="1" height="11" fill="#c0c0c0"/>
<rect x="340" y="628" width="1" height="13" fill="#c0c0c0"/>
<rect x="348" y="625" width="1" height="16" fill="#c0c0c0"/>
<rect x="356" y="625" width="1" height="16" fill="#c0c0c0"/>
<rect x="364" y="626" width="1" height="15" fill="#c0c0c0"/>
<rect x="372" y="629" width="1" height="12" fill="#c0c0c0"/>
<rect x="380" y="630" width="1" height="11" fill="#c0c0c0"/>
<rect x="388" y="630" width="1" height="11" fill="#c0c0c0"/>
<rect x="396" y="633" width="1" height="8" fill="#c0c0c0"/>
<rect x="404" y="630" width="1" height="11" fill="#c0c0c0"/>
<rect x="412" y="628" width="1" height="13" fill="#c0c0c0"/>
<rect x="420" y="627" width="1" height="14" fill="#c0c0c0"/>
<rect x="428" y="624" width="1" height="17" fill="#c0c0c0"/>
<rect x="436" y="625" width="1" height="16" fill="#c0c0c0"/>
<rect x="444" y="625" width="1" height="16" fill="#c0c0c0"/>
<rect x="452" y="625" width="1" height="16" fill="#c0c0c0"/>
<rect x="460" y="626" width="1" height="15" fill="#c0c0c0"/>
<rect x="468" y="626" width="1" height="15" fill="#c0c0c0"/>
<rect x="476" y="624" width="1" height="17" fill="#c0c0c0"/>
<rect x="484" y="623" width="1" height="18" fill="#c0c0c0"/>
<rect x="492" y="622" width="1" height="19" fill="#c0c0c0"/>
<rect x="500" y="622" width="1" height="19" fill="#c0c0c0"/>
<rect x="508" y="623" width="1" height="18" fill="#c0c0c0"/>
<rect x="516" y="621" width="1" height="20" fill="#c0c0c0"/>
<rect x="524" y="620" width="1" height="21" fill="#c0c0c0"/>
<rect x="532" y="617" width="1" height="24" fill="#c0c0c0"/>
<rect x="540" y="613" width="1" height="28" fill="#c0c0c0"/>
<rect x="548" y="610" width="1" height="31" fill="#c0c0c0"/>
<rect x="556" y="607" width="1" height="34" fill="#c0c0c0"/>
<rect x="564" y="605" width="1" height="36" fill="#c0c0c0"/>
<rect x="572" y="603" width="1" height="38" fill="#c0c0c0"/>
<rect x="580" y="598" width="1" height="43" fill="#c0c0c0"/>
<rect x="588" y="594" width="1" height="47" fill="#c0c0c0"/>
<rect x="596" y="593" width="1" height="48" fill="#c0c0c0"/>
<rect x="604" y="591" width="1" height="50" fill="#c0c0c0"/>
<rect x="612" y="589" width="1" height="52" fill="#c0c0c0"/>
<rect x="620" y="588" width="1" height="53" fill="#c0c0c0"/>
<rect x="628" y="590" width="1" height="51" fill="#c0c0c0"/>
<rect x="636" y="592" width="1" height="49" fill="#c0c0c0"/>
<rect x="644" y="599" width="1" height="42" fill="#c0c0c0"/>
<rect x="652" y="603" width="1" height="38" fill="#c0c0c0"/>
<rect x="660" y="608" width="1" height="33" fill="#c0c0c0"/>
<rect x="668" y="612" width="1" height="29" fill="#c0c0c0"/>
<rect x="676" y="613" width="1" height="28" fill="#c0c0c0"/>
<rect x="684" y="615" width="1" height="26" fill="#c0c0c0"/>
<rect x="692" y="616" width="1" height="25" fill="#c0c0c0"/>
<rect x="700" y="618" width="1" height="23" fill="#c0c0c0"/>
<rect x="708" y="620" width="1" height="21" fill="#c0c0c0"/>
<rect x="716" y="620" width="1" height="21" fill="#c0c0c0"/>
<rect x="724" y="621" width="1" height="20" fill="#c0c0c0"/>
<rect x="732" y="623" width="1" height="18" fill="#c0c0c0"/>
<rect x="740" y="624" width="1" height="17" fill="#c0c0c0"/>
<rect x="748" y="626" width="1" height="15" fill="#c0c0c0"/>
<rect x="756" y="628" width="1" height="13" fill="#c0c0c0"/>
<rect x="764" y="629" width="1" height="12" fill="#c0c0c0"/>
<rect x="772" y="630" width="1" height="11" fill="#c0c0c0"/>
<rect x="780" y="631" width="1" height="10" fill="#c0c0c0"/>
<rect x="788" y="632" width="1" height="9" fill="#c0c0c0"/>
<rect x="796" y="634" width="1" height="7" fill="#c0c0c0"/>
<rect x="804" y="634" width="1" height="7" fill="#c0c0c0"/>
<rect x="812" y="633" width="1" height="8" fill="#c0c0c0"/>
<rect x="820" y="633" width="1" height="8" fill="#c0c0c0"/>
<rect x="828" y="633" width="1" height="8" fill="#c0c0c0"/>
<rect x="836" y="632" width="1" height="9" fill="#c0c0c0"/>
<rect x="844" y="632" width="1" height="9" fill="#c0c0c0"/>
<rect x="852" y="632" width="1" height="9" fill="#c0c0c0"/>
<rect x="860" y="632" width="1" height="9" fill="#c0c0c0"/>
<rect x="868" y="631" width="1" height="10" fill="#c0c0c0"/>
<rect x="876" y="630" width="1" height="11" fill="#c0c0c0"/>
<rect x="884" y="629" width="1" height="12" fill="#c0c0c0"/>
<rect x="892" y="630" width="1" height="11" fill="#c0c0c0"/>
<rect x="900" y="630" width="1" height="11" fill="#c0c0c0"/>
<rect x="908" y="630" width="1" height="11" fill="#c0c0c0"/>
<rect x="916" y="630" width="1" height="11" fill="#c0c0c0"/>
<rect x="924" y="630" width="1" height="11" fill="#c0c0c0"/>
<rect x="932" y="632" width="1" height="9" fill="#c0c0c0"/>
<rect x="940" y="634" width="1" height="7" fill="#c0c0c0"/>
<rect x="948" y="636" width="1" height="5" fill="#c0c0c0"/>
<rect x="956" y="636" width="1" height="5" fill="#c0c0c0"/>
<rect x="964" y="637" width="1" height="4" fill="#c0c0c0"/>
<rect x="972" y="637" width="1" height="4" fill="#c0c0c0"/>
<rect x="980" y="639" width="1" height="2" fill="#c0c0c0"/>
<rect x="996" y="640" width="1" height="4" fill="#c0c0c0"/>
<rect x="1004" y="640" width="1" height="3" fill="#c0c0c0"/>
<rect x="1012" y="640" width="1" height="3" fill="#c0c0c0"/>
<rect x="1020" y="640" width="1" height="2" fill="#c0c0c0"/>
<rect x="1028" y="640" width="1" height="1" fill="#c0c0c0"/>
<rect x="1068" y="636" width="1" height="5" fill="#c0c0c0"/>
<rect x="1076" y="633" width="1" height="8" fill="#c0c0c0"/>
<rect x="1084" y="631" width="1" height="10" fill="#c0c0c0"/>
<rect x="1092" y="630" width="1" height="11" fill="#c0c0c0"/>
<rect x="1100" y="629" width="1" height="12" fill="#c0c0c0"/>
<rect x="1108" y="629" width="1" height="12" fill="#c0c0c0"/>
<rect x="1116" y="630" width="1" height="11" fill="#c0c0c0"/>
<rect x="1124" y="631" width="1" height="10" fill="#c0c0c0"/>
<rect x="1132" y="630" width="1" height="11" fill="#c0c0c0"/>
<rect x="1140" y="632" width="1" height="9" fill="#c0c0c0"/>
<rect x="1148" y="629" width="1" height="12" fill="#c0c0c0"/>
<rect x="1156" y="629" width="1" height="12" fill="#c0c0c0"/>
<rect x="1164" y="629" width="1" height="12" fill="#c0c0c0"/>
<rect x="1172" y="630" width="1" height="11" fill="#c0c0c0"/>
<rect x="1180" y="630" width="1" height="11" fill="#c0c0c0"/>
<rect x="1188" y="631" width="1" height="10" fill="#c0c0c0"/>
<rect x="1196" y="630" width="1" height="11" fill="#c0c0c0"/>
<rect x="1204" y="630" width="1" height="11" fill="#c0c0c0"/>
<rect x="1212" y="629" width="1" height="12" fill="#c0c0c0"/>
<rect x="1220" y="630" width="1" height="11" fill="#c0c0c0"/>
<rect x="1228" y="632" width="1" height="9" fill="#c0c0c0"/>
<rect x="1236" y="632" width="1" height="9" fill="#c0c0c0"/>
<rect x="1244" y="633" width="1" height="8" fill="#c0c0c0"/>
<rect x="1252" y="636" width="1" height="5" fill="#c0c0c0"/>
<rect x="1260" y="636" width="1" height="5" fill="#c0c0c0"/>
<rect x="1268" y="637" width="1" height="4" fill="#c0c0c0"/>
<rect x="1276" y="637" width="1" height="4" fill="#c0c0c0"/>
<rect x="1284" y="636" width="1" height="5" fill="#c0c0c0"/>
<rect x="1292" y="636" width="1" height="5" fill="#c0c0c0"/>
<rect x="1300" y="635" width="1" height="6" fill="#c0c0c0"/>
<rect x="1308" y="635" width="1" height="6" fill="#c0c0c0"/>
<rect x="1316" y="636" width="1" height="5" fill="#c0c0c0"/>
<rect x="1324" y="636" width="1" height="5" fill="#c0c0c0"/>
<rect x="1332" y="637" width="1" height="4" fill="#c0c0c0"/>
<rect x="1340" y="639" width="1" height="2" fill="#c0c0c0"/>
<rect x="1372" y="639" width="1" height="2" fill="#c0c0c0"/>
<rect x="1380" y="639" width="1" height="2" fill="#c0c0c0"/>
<rect x="1388" y="638" width="1" height="3" fill="#c0c0c0"/>
<rect x="1396" y="637" width="1" height="4" fill="#c0c0c0"/>
<rect x="1404" y="636" width="1" height="5" fill="#c0c0c0"/>
<rect x="1412" y="636" width="1" height="5" fill="#c0c0c0"/>
<rect x="1420" y="636" width="1" height="5" fill="#c0c0c0"/>
<rect x="1428" y="636" width="1" height="5" fill="#c0c0c0"/>
<rect x="1436" y="636" width="1" height="5" fill="#c0c0c0"/>
<polyline points="-3.5,683.0 4.5,686.8 12.5,690.6 20.5,694.8 28.5,698.2 36.5,704.3 44.5,711.2 52.5,716.3 60.5,722.6 68.5,726.7 76.5,730.2 84.5,734.0 92.5,735.9 100.5,734.9 108.5,732.5 116.5,727.7 124.5,723.3 132.5,716.9 140.5,710.6 148.5,703.5 156.5,696.7 164.5,688.7 172.5,684.5 180.5,680.2 188.5,676.9 196.5,673.9 204.5,670.3 212.5,666.8 220.5,663.6 228.5,660.2 236.5,656.4 244.5,652.6 252.5,648.4 260.5,644.4 268.5,640.8 276.5,638.3 284.5,636.4 292.5,635.1 300.5,633.9 308.5,632.8 316.5,632.0 324.5,631.9 332.5,631.7 340.5,631.0 348.5,630.6 356.5,629.5 364.5,629.1 372.5,629.1 380.5,629.1 388.5,629.1 396.5,629.1 404.5,629.1 412.5,629.1 420.5,629.1 428.5,628.9 436.5,628.6 444.5,628.2 452.5,627.8 460.5,626.7 468.5,626.0 476.5,625.6 484.5,624.5 492.5,623.8 500.5,623.8 508.5,623.6 516.5,623.2 524.5,622.7 532.5,621.6 540.5,619.7 548.5,618.3 556.5,616.8 564.5,614.2 572.5,612.9 580.5,609.8 588.5,607.0 596.5,605.2 604.5,601.5 612.5,599.3 620.5,596.0 628.5,594.9 636.5,593.2 644.5,592.9 652.5,592.9 660.5,594.3 668.5,596.7 676.5,598.6 684.5,602.1 692.5,604.5 700.5,607.8 708.5,611.3 716.5,613.5 724.5,616.2 732.5,617.5 740.5,618.6 748.5,619.7 756.5,621.2 764.5,622.7 772.5,624.5 780.5,625.6 788.5,626.7 796.5,628.9 804.5,630.2 812.5,630.8 820.5,631.0 828.5,631.9 836.5,632.1 844.5,632.6 852.5,632.6 860.5,632.6 868.5,632.1 876.5,631.7 884.5,631.0 892.5,631.0 900.5,631.0 908.5,631.0 916.5,630.2 924.5,629.9 932.5,630.2 940.5,630.8 948.5,631.0 956.5,631.7 964.5,632.6 972.5,633.9 980.5,634.8 988.5,636.1 996.5,637.2 1004.5,638.7 1012.5,639.8 1020.5,640.9 1028.5,641.8 1036.5,642.0 1044.5,642.9 1052.5,643.1 1060.5,642.7 1068.5,641.3 1076.5,639.8 1084.5,638.5 1092.5,637.2 1100.5,635.9 1108.5,635.0 1116.5,632.6 1124.5,631.5 1132.5,630.6 1140.5,629.9 1148.5,629.9 1156.5,629.9 1164.5,629.9 1172.5,629.9 1180.5,629.9 1188.5,629.9 1196.5,629.9 1204.5,629.9 1212.5,629.9 1220.5,629.9 1228.5,629.9 1236.5,631.0 1244.5,631.0 1252.5,631.7 1260.5,631.9 1268.5,632.8 1276.5,633.7 1284.5,634.1 1292.5,634.8 1300.5,635.0 1308.5,635.2 1316.5,635.9 1324.5,636.1 1332.5,636.1 1340.5,636.5 1348.5,637.0 1356.5,637.2 1364.5,637.6 1372.5,637.6 1380.5,638.9 1388.5,638.9 1396.5,638.7 1404.5,638.5 1412.5,638.3 1420.5,638.0 1428.5,637.6 1436.5,636.5" fill="none" stroke="#ff0000" stroke-width="1" stroke-dasharray="3 3"/>
<rect x="1690" y="640" width="3" height="1" fill="#000"/>
<rect x="1690" y="580" width="3" height="1" fill="#000"/>
<rect x="1690" y="747" width="3" height="1" fill="#000"/>
</g>
<text x="1" y="591" font-size="9.2" fill="#000" textLength="117" lengthAdjust="spacingAndGlyphs">MACD(12,26,9) 64.98 50.40</text>
<text x="1693.3" y="589" font-size="9.2" fill="#000" textLength="27.7" lengthAdjust="spacingAndGlyphs">931.89</text>
<text x="1695.5" y="643.5" font-size="9.2" fill="#000" textLength="17.7" lengthAdjust="spacingAndGlyphs">0.00</text>
<text x="1693.3" y="745.7" font-size="9.2" fill="#000" textLength="35.7" lengthAdjust="spacingAndGlyphs">-1667.31</text>
<g shape-rendering="crispEdges">
<line x1="3" y1="786.5" x2="1689" y2="786.5" stroke="#c0c0c0" stroke-width="1" stroke-dasharray="3 3"/>
<line x1="3" y1="837.5" x2="1689" y2="837.5" stroke="#c0c0c0" stroke-width="1" stroke-dasharray="3 3"/>
<line x1="3" y1="898.5" x2="1689" y2="898.5" stroke="#c0c0c0" stroke-width="1" stroke-dasharray="3 3"/>
<rect x="1690" y="752" width="3" height="1" fill="#000"/>
<rect x="1690" y="923" width="3" height="1" fill="#000"/>
<polyline points="-3.5,878.0 4.5,875.9 12.5,881.8 20.5,893.9 28.5,873.1 36.5,876.4 44.5,881.8 52.5,874.2 60.5,873.7 68.5,869.8 76.5,870.9 84.5,875.7 92.5,857.8 100.5,842.0 108.5,841.8 116.5,837.6 124.5,844.0 132.5,844.0 140.5,837.0 148.5,844.6 156.5,850.8 164.5,850.8 172.5,852.7 180.5,850.8 188.5,834.8 196.5,834.8 204.5,830.8 212.5,827.6 220.5,830.8 228.5,832.6 236.5,834.8 244.5,828.7 252.5,833.7 260.5,826.7 268.5,828.7 276.5,828.7 284.5,831.9 292.5,838.7 300.5,835.9 308.5,834.8 316.5,832.2 324.5,831.9 332.5,824.9 340.5,821.6 348.5,814.6 356.5,826.0 364.5,835.9 372.5,841.7 380.5,837.4 388.5,834.0 396.5,837.9 404.5,827.0 412.5,821.9 420.5,819.8 428.5,817.6 436.5,828.1 444.5,827.0 452.5,825.9 460.5,829.6 468.5,827.9 476.5,816.0 484.5,823.0 492.5,816.9 500.5,821.9 508.5,821.9 516.5,819.1 524.5,813.2 532.5,808.4 540.5,800.1 548.5,799.0 556.5,796.1 564.5,797.2 572.5,793.0 580.5,785.8 588.5,783.6 596.5,796.8 604.5,789.8 612.5,789.8 620.5,791.7 628.5,802.9 636.5,808.8 644.5,834.0 652.5,829.0 660.5,832.2 668.5,830.7 676.5,821.9 684.5,825.9 692.5,823.0 700.5,829.0 708.5,829.0 716.5,820.9 724.5,824.6 732.5,834.0 740.5,829.2 748.5,834.0 756.5,835.1 764.5,829.6 772.5,831.8 780.5,837.9 788.5,834.6 796.5,837.3 804.5,834.0 812.5,823.0 820.5,829.6 828.5,827.9 836.5,827.9 844.5,824.8 852.5,823.7 860.5,825.9 868.5,818.2 876.5,814.9 884.5,820.9 892.5,827.0 900.5,823.7 908.5,822.6 916.5,823.7 924.5,827.9 932.5,834.6 940.5,847.8 948.5,841.6 956.5,830.0 964.5,837.7 972.5,839.0 980.5,848.9 988.5,862.9 996.5,860.7 1004.5,840.1 1012.5,836.8 1020.5,836.8 1028.5,839.9 1036.5,837.9 1044.5,837.9 1052.5,833.3 1060.5,822.6 1068.5,808.2 1076.5,804.9 1084.5,814.7 1092.5,812.8 1100.5,817.8 1108.5,823.7 1116.5,823.7 1124.5,822.6 1132.5,830.7 1140.5,828.5 1148.5,814.9 1156.5,814.9 1164.5,812.8 1172.5,816.5 1180.5,837.3 1188.5,824.8 1196.5,830.7 1204.5,822.6 1212.5,812.5 1220.5,835.5 1228.5,831.8 1236.5,834.0 1244.5,830.7 1252.5,847.8 1260.5,836.6 1268.5,837.9 1276.5,833.3 1284.5,826.8 1292.5,829.6 1300.5,829.6 1308.5,830.7 1316.5,834.4 1324.5,838.8 1332.5,838.8 1340.5,851.9 1348.5,838.8 1356.5,841.0 1364.5,838.8 1372.5,834.6 1380.5,831.8 1388.5,823.7 1396.5,820.9 1404.5,828.5 1412.5,830.0 1420.5,837.7 1428.5,834.0 1436.5,827.4" fill="none" stroke="#1e90ff" stroke-width="1"/>
</g>
<text x="1" y="763.2" font-size="9.2" fill="#000" textLength="67" lengthAdjust="spacingAndGlyphs">RSI(14) 56.7085</text>
<text x="1693.3" y="761.0" font-size="9.2" fill="#000">100</text>
<text x="1693.3" y="789.8" font-size="9.2" fill="#000">80</text>
<text x="1693.3" y="841.0999999999999" font-size="9.2" fill="#000">50</text>
<text x="1693.3" y="901.8" font-size="9.2" fill="#000">15</text>
<text x="1693.3" y="921.0" font-size="9.2" fill="#000">0</text>
<g shape-rendering="crispEdges">
<rect x="60" y="925" width="1" height="3" fill="#000"/>
<rect x="124" y="925" width="1" height="3" fill="#000"/>
<rect x="188" y="925" width="1" height="3" fill="#000"/>
<rect x="252" y="925" width="1" height="3" fill="#000"/>
<rect x="316" y="925" width="1" height="3" fill="#000"/>
<rect x="380" y="925" width="1" height="3" fill="#000"/>
<rect x="444" y="925" width="1" height="3" fill="#000"/>
<rect x="508" y="925" width="1" height="3" fill="#000"/>
<rect x="572" y="925" width="1" height="3" fill="#000"/>
<rect x="636" y="925" width="1" height="3" fill="#000"/>
<rect x="700" y="925" width="1" height="3" fill="#000"/>
<rect x="764" y="925" width="1" height="3" fill="#000"/>
<rect x="828" y="925" width="1" height="3" fill="#000"/>
<rect x="892" y="925" width="1" height="3" fill="#000"/>
<rect x="956" y="925" width="1" height="3" fill="#000"/>
<rect x="1020" y="925" width="1" height="3" fill="#000"/>
<rect x="1084" y="925" width="1" height="3" fill="#000"/>
<rect x="1148" y="925" width="1" height="3" fill="#000"/>
<rect x="1212" y="925" width="1" height="3" fill="#000"/>
<rect x="1276" y="925" width="1" height="3" fill="#000"/>
<rect x="1340" y="925" width="1" height="3" fill="#000"/>
<rect x="1404" y="925" width="1" height="3" fill="#000"/>
</g>
<text x="-4.8" y="937" font-size="9.2" fill="#000">9 Mar 2020</text>
<text x="59.2" y="937" font-size="9.2" fill="#000">18 Mar 2020</text>
<text x="123.2" y="937" font-size="9.2" fill="#000">27 Mar 2020</text>
<text x="187.2" y="937" font-size="9.2" fill="#000">6 Apr 2020</text>
<text x="251.2" y="937" font-size="9.2" fill="#000">15 Apr 2020</text>
<text x="315.2" y="937" font-size="9.2" fill="#000">24 Apr 2020</text>
<text x="379.2" y="937" font-size="9.2" fill="#000">4 May 2020</text>
<text x="443.2" y="937" font-size="9.2" fill="#000">13 May 2020</text>
<text x="507.2" y="937" font-size="9.2" fill="#000">22 May 2020</text>
<text x="571.2" y="937" font-size="9.2" fill="#000">1 Jun 2020</text>
<text x="635.2" y="937" font-size="9.2" fill="#000">10 Jun 2020</text>
<text x="699.2" y="937" font-size="9.2" fill="#000">19 Jun 2020</text>
<text x="763.2" y="937" font-size="9.2" fill="#000">29 Jun 2020</text>
<text x="827.2" y="937" font-size="9.2" fill="#000">8 Jul 2020</text>
<text x="891.2" y="937" font-size="9.2" fill="#000">17 Jul 2020</text>
<text x="955.2" y="937" font-size="9.2" fill="#000">27 Jul 2020</text>
<text x="1019.2" y="937" font-size="9.2" fill="#000">5 Aug 2020</text>
<text x="1083.2" y="937" font-size="9.2" fill="#000">14 Aug 2020</text>
<text x="1147.2" y="937" font-size="9.2" fill="#000">24 Aug 2020</text>
<text x="1211.2" y="937" font-size="9.2" fill="#000">2 Sep 2020</text>
<text x="1275.2" y="937" font-size="9.2" fill="#000">11 Sep 2020</text>
<text x="1339.2" y="937" font-size="9.2" fill="#000">21 Sep 2020</text>
<text x="1403.2" y="937" font-size="9.2" fill="#000">30 Sep 2020</text>
</svg>
</body></html>
